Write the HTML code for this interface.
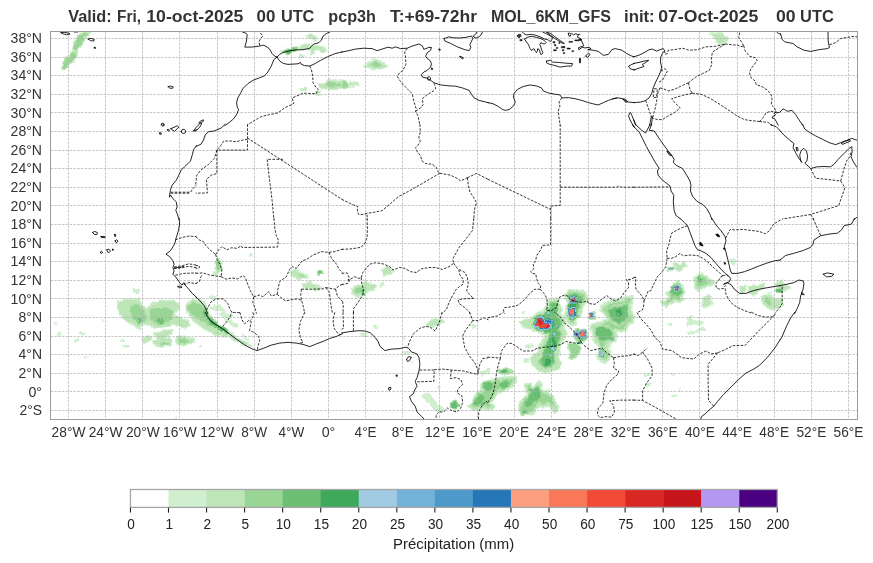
<!DOCTYPE html>
<html><head><meta charset="utf-8"><title>pcp3h</title>
<style>html,body{margin:0;padding:0;background:#fff;}svg{display:block;}text{font-family:"Liberation Sans",sans-serif;}</style>
</head><body>
<svg width="873" height="563" viewBox="0 0 873 563">
<rect x="0" y="0" width="873" height="563" fill="#ffffff"/>
<defs><filter id="rough" x="-5%" y="-5%" width="110%" height="110%" filterUnits="objectBoundingBox"><feTurbulence type="fractalNoise" baseFrequency="0.22" numOctaves="2" seed="7" result="n"/><feDisplacementMap in="SourceGraphic" in2="n" scale="4" xChannelSelector="R" yChannelSelector="G"/></filter></defs>
<defs><clipPath id="mc"><rect x="50.5" y="31.5" width="807.0" height="388.0"/></clipPath></defs>
<g clip-path="url(#mc)">
<g id="precip" stroke-linejoin="round" filter="url(#rough)">
<path d="M79.8,33.2 L89.1,32.8 L88.5,35.3 L84.8,37.0 L82.8,42.7 L80.1,48.1 L74.9,51.7 L72.4,48.7 L74.8,42.7 L77.3,36.9Z" fill="#99d594" stroke="#bde5b7" stroke-width="1.4"/>
<path d="M69.7,52.7 L77.1,51.7 L76.8,56.1 L72.7,61.4 L67.4,67.3 L61.7,69.3 L62.5,63.8 L65.7,57.8 L69.7,55.4Z" fill="#99d594" stroke="#bde5b7" stroke-width="1.4"/>
<path d="M281.0,50.4 L286.3,49.1 L293.0,48.1 L298.4,47.4 L303.0,44.4 L308.1,43.9 L313.1,45.0 L319.8,46.1 L324.8,48.4 L326.8,51.1 L321.4,52.4 L316.7,49.4 L313.4,51.1 L313.4,53.7 L310.7,53.7 L309.7,49.7 L303.0,49.4 L297.3,50.4 L290.7,53.4 L286.3,53.9 L282.3,52.1Z" fill="#bde5b7" stroke="#d0efcf" stroke-width="1.4"/>
<path d="M283.8,51.1 L289.7,49.4 L297.2,48.4 L296.3,50.2 L290.7,52.7 L286.3,53.1Z" fill="#6cbf73" stroke="#99d594" stroke-width="1.4"/>
<path d="M286.0,51.1 L291.3,49.6 L296.0,49.1 L294.3,50.7 L289.7,52.4 L286.6,52.4Z" fill="#3ea85b" stroke="#6cbf73" stroke-width="1.4"/>
<path d="M305.5,34.7 L311.4,34.2 L316.4,36.9 L315.7,40.4 L311.4,39.4 L308.1,37.7Z" fill="#bde5b7" stroke="#d0efcf" stroke-width="1.4"/>
<path d="M299.7,54.4 L303.0,54.7 L303.4,57.1 L300.0,56.4Z" fill="#bde5b7" stroke="#d0efcf" stroke-width="1.4"/>
<path d="M318.9,85.4 L324.8,82.0 L329.8,79.3 L336.5,80.3 L342.3,81.2 L342.3,87.9 L336.5,88.9 L329.8,89.7 L324.8,88.9 L319.8,87.9Z" fill="#bde5b7" stroke="#d0efcf" stroke-width="1.4"/>
<path d="M324.8,84.5 L329.8,81.5 L336.5,82.0 L342.3,83.2 L342.3,86.2 L334.8,87.0 L328.1,87.5Z" fill="#99d594" stroke="#bde5b7" stroke-width="1.4"/>
<path d="M300.5,88.5 L305.5,88.4 L305.7,90.5 L301.0,90.7Z" fill="#bde5b7" stroke="#d0efcf" stroke-width="1.4"/>
<path d="M315.6,91.9 L320.6,91.5 L320.1,95.2 L316.1,95.2Z" fill="#bde5b7" stroke="#d0efcf" stroke-width="1.4"/>
<path d="M364.2,66.5 L368.8,61.9 L372.9,58.9 L378.0,59.6 L382.1,62.8 L387.2,66.1 L383.8,68.3 L377.1,69.8 L370.4,68.1Z" fill="#bde5b7" stroke="#d0efcf" stroke-width="1.4"/>
<path d="M369.6,64.1 L373.8,61.1 L378.0,61.4 L382.1,64.4 L378.0,67.5 L372.1,66.5Z" fill="#99d594" stroke="#bde5b7" stroke-width="1.4"/>
<path d="M341.7,80.2 L346.2,80.8 L348.7,83.2 L347.0,87.0 L344.0,88.9 L341.7,88.9Z" fill="#99d594" stroke="#bde5b7" stroke-width="1.4"/>
<path d="M347.9,83.2 L353.7,81.8 L359.7,83.2 L358.7,85.5 L352.0,86.0 L348.4,86.2Z" fill="#bde5b7" stroke="#d0efcf" stroke-width="1.4"/>
<path d="M710.1,33.5 L715.9,33.0 L721.0,32.5 L725.1,36.0 L728.7,38.5 L727.7,42.0 L722.6,43.7 L718.5,44.2 L715.9,41.9 L717.0,38.5 L712.6,36.9Z" fill="#bde5b7" stroke="#d0efcf" stroke-width="1.4"/>
<path d="M117.4,301.3 L126.1,299.1 L139.2,299.1 L141.4,304.6 L146.8,307.9 L152.2,303.5 L163.1,300.7 L174.0,300.2 L179.4,303.5 L178.4,310.0 L174.0,314.4 L180.5,317.6 L187.1,319.8 L190.3,325.3 L184.9,328.1 L177.3,326.4 L174.0,324.2 L165.3,327.4 L154.4,328.5 L150.1,325.3 L141.4,324.2 L140.3,329.6 L134.8,326.4 L129.4,324.2 L125.0,319.8 L119.6,314.4 L117.4,308.9Z" fill="#bde5b7" stroke="#d0efcf" stroke-width="1.4"/>
<path d="M129.4,304.6 L138.1,303.5 L143.5,308.9 L146.8,315.5 L145.7,322.0 L139.2,324.2 L132.6,320.9 L130.5,313.3Z" fill="#99d594" stroke="#bde5b7" stroke-width="1.4"/>
<path d="M149.0,310.0 L156.6,306.8 L169.6,307.9 L175.1,312.2 L171.8,319.8 L165.3,325.3 L156.6,325.3 L150.1,320.9Z" fill="#99d594" stroke="#bde5b7" stroke-width="1.4"/>
<path d="M135.9,317.6 L141.4,317.2 L142.7,321.6 L138.1,323.3Z" fill="#6cbf73" stroke="#99d594" stroke-width="1.4"/>
<path d="M155.5,317.6 L163.1,317.6 L165.3,322.4 L158.8,324.6Z" fill="#6cbf73" stroke="#99d594" stroke-width="1.4"/>
<path d="M208.8,295.9 L216.4,295.4 L218.6,298.5 L212.1,299.4Z" fill="#d0efcf"/>
<path d="M213.2,304.6 L221.9,306.8 L227.3,312.2 L221.9,312.9 L215.3,308.9Z" fill="#d0efcf"/>
<path d="M224.1,317.6 L232.8,320.9 L239.3,327.4 L233.8,327.4 L227.3,323.1Z" fill="#d0efcf"/>
<path d="M239.3,331.8 L245.8,336.1 L250.2,342.0 L244.7,339.4Z" fill="#d0efcf"/>
<path d="M186.0,305.7 L189.2,301.3 L195.8,299.1 L201.2,299.8 L205.6,305.7 L208.8,312.2 L214.3,319.8 L224.1,327.4 L234.9,335.5 L244.7,342.0 L252.3,346.4 L243.6,344.9 L234.9,341.6 L228.4,336.1 L217.5,336.1 L208.8,331.8 L202.3,327.4 L195.8,323.1 L191.4,317.6 L187.1,313.3Z" fill="#bde5b7" stroke="#d0efcf" stroke-width="1.4"/>
<path d="M187.1,304.6 L195.8,301.3 L203.4,305.7 L208.8,313.3 L213.2,320.9 L221.9,326.4 L230.6,334.0 L226.2,334.2 L217.5,329.8 L208.8,325.5 L200.1,319.8 L191.4,315.5 L187.1,310.0Z" fill="#99d594" stroke="#bde5b7" stroke-width="1.4"/>
<path d="M204.0,310.7 L208.8,317.6 L215.3,323.1 L221.9,327.4 L228.8,332.0 L227.5,333.5 L219.7,329.0 L212.1,324.2 L206.6,318.1 L203.2,312.2Z" fill="#3ea85b" stroke="#6cbf73" stroke-width="1.4"/>
<path d="M141.4,338.3 L146.8,336.1 L152.2,336.8 L151.1,340.5 L144.6,342.7Z" fill="#bde5b7" stroke="#d0efcf" stroke-width="1.4"/>
<path d="M153.3,334.0 L163.1,330.7 L171.8,329.6 L172.9,334.0 L165.3,337.2 L171.8,340.5 L170.7,344.9 L163.1,347.0 L155.5,345.9 L152.2,342.0 L157.7,338.3Z" fill="#bde5b7" stroke="#d0efcf" stroke-width="1.4"/>
<path d="M158.8,341.6 L169.6,341.2 L169.2,344.9 L160.9,345.5Z" fill="#99d594" stroke="#bde5b7" stroke-width="1.4"/>
<path d="M176.2,337.2 L179.4,335.5 L187.1,337.2 L193.6,339.4 L194.7,342.7 L187.1,344.9 L178.4,345.5 L175.7,342.0Z" fill="#bde5b7" stroke="#d0efcf" stroke-width="1.4"/>
<path d="M177.3,337.2 L187.1,339.4 L192.5,342.0 L184.9,343.8 L178.4,343.8Z" fill="#99d594" stroke="#bde5b7" stroke-width="1.4"/>
<path d="M121.8,339.4 L123.9,339.4 L123.9,342.0 L121.8,342.0Z" fill="#d0efcf"/>
<path d="M122.9,344.9 L127.2,344.9 L127.2,347.0 L122.9,347.0Z" fill="#d0efcf"/>
<path d="M131.6,289.4 L140.3,288.9 L139.2,293.3 L132.6,292.6Z" fill="#d0efcf"/>
<path d="M199.0,345.9 L202.3,345.9 L202.3,347.5 L199.0,347.5Z" fill="#d0efcf"/>
<path d="M519.2,321.2 L523.8,319.4 L529.3,319.4 L533.9,315.7 L536.7,313.0 L543.1,310.2 L545.8,305.7 L547.7,300.2 L553.2,298.3 L558.6,299.2 L561.4,304.7 L562.3,310.2 L560.5,313.9 L565.1,316.7 L566.0,322.2 L563.2,326.7 L566.9,330.4 L566.0,335.0 L563.2,340.5 L561.4,345.1 L560.5,351.5 L558.6,357.0 L561.4,362.5 L560.5,368.0 L556.8,370.7 L551.3,369.8 L548.6,372.6 L544.0,373.5 L539.4,370.7 L534.8,367.1 L531.2,362.5 L530.2,357.0 L533.9,354.2 L538.5,350.6 L539.4,344.1 L543.1,338.6 L545.8,334.1 L541.2,333.2 L533.9,330.4 L527.5,328.6 L522.0,326.7Z" fill="#bde5b7" stroke="#d0efcf" stroke-width="1.4"/>
<path d="M535.7,317.6 L544.0,313.0 L548.6,309.3 L550.4,302.9 L556.8,302.0 L558.6,307.5 L555.9,313.9 L560.5,319.4 L562.3,324.9 L558.6,329.5 L561.4,335.0 L558.6,342.3 L555.0,349.6 L554.1,357.0 L555.0,362.5 L551.3,366.1 L545.8,368.0 L541.2,365.2 L539.4,360.6 L543.1,355.1 L544.0,347.8 L546.7,341.4 L549.5,335.0 L544.0,332.2 L536.7,329.5 L533.0,324.9Z" fill="#6cbf73" stroke="#99d594" stroke-width="1.4"/>
<path d="M534.5,317.6 L541.2,314.8 L547.7,315.7 L554.1,319.4 L555.0,325.8 L551.3,330.4 L544.0,331.3 L536.7,329.5 L533.4,324.0Z" fill="#3ea85b" stroke="#6cbf73" stroke-width="1.4"/>
<path d="M549.9,335.0 L555.0,334.1 L556.8,342.3 L555.0,350.6 L551.3,353.3 L548.6,349.6 L549.5,342.3Z" fill="#3ea85b" stroke="#6cbf73" stroke-width="1.4"/>
<path d="M543.1,358.8 L549.5,357.9 L552.2,362.5 L548.6,366.1 L544.0,365.2Z" fill="#3ea85b" stroke="#6cbf73" stroke-width="1.4"/>
<path d="M543.3,321.4 L548.6,319.2 L552.6,321.4 L550.6,324.4 L545.8,324.7Z" fill="#2677b8" stroke="#72b2d8" stroke-width="1.2"/>
<path d="M537.6,319.4 L540.3,317.6 L543.1,319.4 L544.0,323.1 L548.6,324.0 L550.4,326.7 L546.7,328.6 L543.1,328.0 L541.2,329.5 L537.6,327.3 L535.2,324.9 L536.7,322.2Z" fill="#f14b38" stroke="#a0cbe2" stroke-width="3"/>
<path d="M537.6,319.4 L540.3,317.6 L543.1,319.4 L544.0,323.1 L548.6,324.0 L550.4,326.7 L546.7,328.6 L543.1,328.0 L541.2,329.5 L537.6,327.3 L535.2,324.9 L536.7,322.2Z" fill="#f14b38" stroke="#2677b8" stroke-width="1.0"/>
<path d="M538.1,320.7 L540.7,318.9 L542.5,320.7 L542.5,324.0 L540.3,325.8 L537.8,324.0Z" fill="#d92823"/>
<path d="M546.7,324.9 L549.5,325.8 L548.0,328.0 L544.9,327.3Z" fill="#d92823"/>
<path d="M546.7,311.2 L550.4,311.2 L550.4,314.8 L546.7,314.8Z" fill="#a0cbe2" stroke="#3ea85b" stroke-width="0.6"/>
<path d="M552.2,332.2 L555.9,332.2 L555.9,335.9 L552.2,335.9Z" fill="#a0cbe2" stroke="#3ea85b" stroke-width="0.6"/>
<path d="M555.9,324.9 L558.6,324.9 L558.6,327.7 L555.9,327.7Z" fill="#a0cbe2" stroke="#3ea85b" stroke-width="0.6"/>
<path d="M550.4,346.0 L555.0,346.0 L555.0,351.5 L550.4,351.5Z" fill="#a0cbe2" stroke="#3ea85b" stroke-width="0.6"/>
<path d="M548.6,353.3 L551.3,353.3 L551.3,357.0 L548.6,357.0Z" fill="#a0cbe2" stroke="#3ea85b" stroke-width="0.6"/>
<path d="M549.5,342.3 L551.7,342.3 L551.7,344.5 L549.5,344.5Z" fill="#a0cbe2" stroke="#3ea85b" stroke-width="0.6"/>
<path d="M565.1,293.7 L568.7,290.1 L575.1,289.2 L582.5,291.0 L587.1,294.7 L588.9,299.2 L586.1,302.9 L582.5,305.7 L582.5,311.2 L580.6,316.7 L577.0,319.4 L576.1,324.0 L572.4,325.8 L567.8,323.1 L566.0,317.6 L565.1,312.1 L566.0,306.6 L567.8,302.9 L565.1,298.3Z" fill="#bde5b7" stroke="#d0efcf" stroke-width="1.4"/>
<path d="M567.3,294.7 L567.3,297.7 L569.7,301.8 L569.8,302.0 L569.9,302.2 L569.9,302.4 L570.0,302.6 L570.0,302.8 L570.0,303.0 L570.0,303.3 L569.9,303.5 L569.9,303.7 L569.8,303.9 L568.1,307.3 L567.3,312.1 L568.1,317.0 L569.6,321.6 L572.5,323.3 L574.1,322.5 L574.8,319.0 L574.9,318.8 L575.0,318.5 L575.1,318.3 L575.2,318.1 L575.3,318.0 L575.5,317.8 L575.7,317.6 L578.8,315.3 L580.3,310.8 L580.3,305.7 L580.3,305.4 L580.3,305.2 L580.4,305.0 L580.5,304.8 L580.6,304.6 L580.7,304.4 L580.8,304.2 L581.0,304.0 L581.2,303.9 L584.6,301.3 L586.4,298.9 L585.2,296.0 L581.5,293.0 L575.0,291.4 L569.8,292.2Z" fill="#99d594" stroke="#bde5b7" stroke-width="1.4"/>
<path d="M568.7,294.7 L575.1,292.8 L581.6,295.6 L584.3,299.2 L580.6,302.9 L578.8,309.3 L577.9,315.7 L574.2,321.2 L570.6,319.4 L568.7,313.0 L568.7,306.6 L570.6,302.0Z" fill="#6cbf73" stroke="#99d594" stroke-width="1.4"/>
<path d="M569.6,295.6 L577.0,294.7 L577.9,300.2 L576.1,307.5 L577.0,314.8 L573.3,319.4 L569.6,316.7 L568.2,307.5 L569.6,302.0Z" fill="#3ea85b" stroke="#6cbf73" stroke-width="1.4"/>
<path d="M570.6,298.3 L575.1,298.3 L575.1,302.0 L570.6,302.0Z" fill="#f14b38" stroke="#a0cbe2" stroke-width="3"/>
<path d="M570.6,298.3 L575.1,298.3 L575.1,302.0 L570.6,302.0Z" fill="#f14b38" stroke="#2677b8" stroke-width="1.0"/>
<path d="M568.7,308.4 L574.2,308.4 L574.8,314.8 L569.3,315.2Z" fill="#fa7759" stroke="#a0cbe2" stroke-width="3"/>
<path d="M568.7,308.4 L574.2,308.4 L574.8,314.8 L569.3,315.2Z" fill="#fa7759" stroke="#2677b8" stroke-width="1.0"/>
<path d="M569.6,316.7 L574.2,316.7 L574.2,319.6 L569.6,319.6Z" fill="#a0cbe2" stroke="#3ea85b" stroke-width="0.6"/>
<path d="M588.0,312.1 L595.3,312.1 L595.3,319.4 L588.0,319.4Z" fill="#99d594" stroke="#bde5b7" stroke-width="1.4"/>
<path d="M589.4,313.7 L592.7,313.7 L592.7,317.0 L589.4,317.0Z" fill="#fa7759" stroke="#a0cbe2" stroke-width="3"/>
<path d="M589.4,313.7 L592.7,313.7 L592.7,317.0 L589.4,317.0Z" fill="#fa7759" stroke="#2677b8" stroke-width="1.0"/>
<path d="M573.3,332.2 L577.0,329.5 L584.3,329.1 L587.1,332.2 L587.6,336.8 L585.2,340.5 L581.6,343.2 L577.0,341.4 L573.7,337.7Z" fill="#99d594" stroke="#bde5b7" stroke-width="1.4"/>
<path d="M577.9,330.4 L586.1,329.9 L586.5,337.7 L581.6,339.6 L577.0,337.7Z" fill="#3ea85b" stroke="#6cbf73" stroke-width="1.4"/>
<path d="M579.7,331.3 L585.2,331.3 L585.2,336.8 L579.7,336.8Z" fill="#fa7759" stroke="#a0cbe2" stroke-width="3"/>
<path d="M579.7,331.3 L585.2,331.3 L585.2,336.8 L579.7,336.8Z" fill="#fa7759" stroke="#2677b8" stroke-width="1.0"/>
<path d="M574.8,333.2 L577.0,333.2 L577.0,335.9 L574.8,335.9Z" fill="#f14b38" stroke="#a0cbe2" stroke-width="3"/>
<path d="M574.8,333.2 L577.0,333.2 L577.0,335.9 L574.8,335.9Z" fill="#f14b38" stroke="#2677b8" stroke-width="1.0"/>
<path d="M578.4,341.4 L580.6,341.4 L580.6,343.8 L578.4,343.8Z" fill="#4d99ca" stroke="#3ea85b" stroke-width="0.6"/>
<path d="M599.9,307.5 L604.5,303.8 L611.8,299.2 L619.1,300.2 L626.5,296.5 L632.9,295.6 L633.8,300.2 L631.0,305.7 L632.0,312.1 L634.7,316.7 L632.9,323.1 L628.3,325.8 L626.5,330.4 L621.0,332.2 L616.4,330.4 L617.3,336.8 L615.5,342.3 L610.0,343.2 L608.1,348.7 L611.8,353.3 L610.0,359.7 L604.5,363.4 L599.9,360.6 L596.2,356.1 L599.0,350.6 L597.1,345.1 L593.5,340.5 L592.6,334.1 L589.8,328.6 L591.6,324.0 L597.1,323.1 L602.6,321.2 L607.2,319.4 L605.4,314.8 L601.7,312.1Z" fill="#bde5b7" stroke="#d0efcf" stroke-width="1.4"/>
<path d="M602.5,308.2 L603.5,310.7 L606.7,313.1 L606.9,313.2 L607.0,313.3 L607.1,313.5 L607.2,313.6 L607.3,313.8 L607.4,314.0 L609.3,318.6 L609.3,318.8 L609.4,319.0 L609.4,319.2 L609.4,319.4 L609.4,319.6 L609.4,319.9 L609.3,320.1 L609.2,320.3 L609.1,320.5 L609.0,320.6 L608.9,320.8 L608.8,321.0 L608.6,321.1 L608.4,321.2 L608.2,321.4 L608.0,321.4 L603.5,323.3 L603.3,323.3 L597.8,325.2 L597.7,325.2 L597.5,325.2 L593.2,326.0 L592.2,328.5 L594.5,333.1 L594.6,333.3 L594.7,333.5 L594.7,333.8 L595.6,339.6 L598.9,343.7 L599.0,343.8 L599.1,344.0 L599.2,344.2 L599.2,344.4 L601.1,349.9 L601.1,350.1 L601.2,350.3 L601.2,350.5 L601.2,350.7 L601.1,350.9 L601.1,351.1 L601.0,351.3 L600.9,351.5 L598.8,355.8 L601.4,359.0 L604.4,360.8 L608.1,358.3 L609.4,353.8 L606.4,350.1 L606.3,349.9 L606.2,349.7 L606.1,349.5 L606.0,349.3 L606.0,349.1 L605.9,348.9 L605.9,348.7 L605.9,348.5 L606.0,348.2 L606.0,348.0 L607.9,342.5 L608.0,342.3 L608.1,342.1 L608.2,342.0 L608.3,341.8 L608.5,341.6 L608.6,341.5 L608.8,341.4 L609.0,341.3 L609.2,341.2 L609.4,341.1 L609.6,341.1 L613.8,340.4 L615.0,336.6 L614.2,330.7 L614.2,330.5 L614.2,330.3 L614.2,330.1 L614.3,329.8 L614.3,329.6 L614.4,329.4 L614.5,329.2 L614.6,329.1 L614.8,328.9 L614.9,328.7 L615.1,328.6 L615.3,328.5 L615.5,328.4 L615.7,328.3 L615.9,328.3 L616.1,328.2 L616.3,328.2 L616.6,328.2 L616.8,328.2 L617.0,328.3 L617.2,328.4 L621.0,329.9 L624.8,328.6 L626.3,325.0 L626.3,324.8 L626.4,324.6 L626.6,324.5 L626.7,324.3 L626.8,324.2 L627.0,324.0 L627.2,323.9 L631.0,321.6 L632.3,317.0 L630.1,313.2 L630.0,313.0 L629.9,312.8 L629.8,312.6 L629.8,312.4 L628.9,306.0 L628.8,305.7 L628.8,305.5 L628.9,305.3 L628.9,305.1 L629.0,304.9 L629.1,304.7 L631.5,299.9 L631.1,298.1 L627.1,298.6 L620.1,302.1 L619.9,302.2 L619.7,302.3 L619.5,302.3 L619.3,302.4 L619.1,302.4 L618.9,302.3 L612.3,301.5 L605.7,305.6Z" fill="#99d594" stroke="#bde5b7" stroke-width="1.4"/>
<path d="M606.3,309.3 L613.6,305.7 L621.0,304.7 L627.4,302.9 L628.3,309.3 L629.2,316.7 L625.5,322.2 L619.1,325.8 L613.6,324.0 L610.0,319.4 L608.1,313.9Z" fill="#99d594" stroke="#bde5b7" stroke-width="1.4"/>
<path d="M594.4,327.7 L600.8,324.9 L608.1,326.7 L612.7,330.4 L613.6,336.8 L610.0,340.5 L605.4,342.3 L603.6,347.8 L606.3,353.3 L603.6,358.8 L599.9,357.0 L600.8,349.6 L599.0,342.3 L595.3,336.8Z" fill="#99d594" stroke="#bde5b7" stroke-width="1.4"/>
<path d="M607.2,310.2 L614.5,306.6 L621.9,305.7 L627.4,303.8 L628.3,310.2 L628.3,316.7 L624.6,321.2 L619.1,324.0 L614.5,322.2 L610.9,317.6Z" fill="#6cbf73" stroke="#99d594" stroke-width="1.4"/>
<path d="M595.3,328.6 L601.7,325.8 L608.1,327.7 L611.8,331.3 L612.2,336.8 L609.0,339.6 L604.5,341.4 L599.9,340.5 L596.2,335.9Z" fill="#6cbf73" stroke="#99d594" stroke-width="1.4"/>
<path d="M600.8,348.7 L605.4,352.4 L603.6,357.9 L600.4,356.1Z" fill="#6cbf73" stroke="#99d594" stroke-width="1.4"/>
<path d="M614.5,310.2 L620.0,309.0 L623.2,312.1 L621.0,316.7 L616.4,317.6Z" fill="#3ea85b" stroke="#6cbf73" stroke-width="1.4"/>
<path d="M599.9,350.6 L603.6,350.6 L603.6,357.0 L599.9,357.0Z" fill="#a0cbe2" stroke="#3ea85b" stroke-width="0.6"/>
<path d="M610.9,337.7 L613.3,337.7 L613.3,340.5 L610.9,340.5Z" fill="#a0cbe2" stroke="#3ea85b" stroke-width="0.6"/>
<path d="M617.3,313.0 L619.1,313.0 L619.1,315.7 L617.3,315.7Z" fill="#a0cbe2" stroke="#3ea85b" stroke-width="0.6"/>
<path d="M567.8,344.1 L571.5,342.3 L577.0,343.2 L580.6,346.9 L579.7,352.4 L577.0,357.0 L572.4,359.7 L568.7,357.9 L570.6,353.3 L568.7,348.7Z" fill="#99d594" stroke="#bde5b7" stroke-width="1.4"/>
<path d="M500.0,369.8 L504.6,368.3 L511.0,369.8 L512.8,372.6 L507.3,373.8 L500.0,373.5Z" fill="#6cbf73" stroke="#99d594" stroke-width="1.4"/>
<path d="M523.8,358.4 L528.4,358.4 L528.4,362.1 L523.8,362.1Z" fill="#d0efcf"/>
<path d="M524.7,345.1 L532.1,343.2 L533.9,346.9 L529.3,349.6 L525.7,348.7Z" fill="#d0efcf"/>
<path d="M522.0,312.1 L524.7,312.1 L524.7,314.5 L522.0,314.5Z" fill="#d0efcf"/>
<path d="M516.5,297.4 L519.2,297.4 L519.2,299.2 L516.5,299.2Z" fill="#d0efcf"/>
<path d="M643.9,373.5 L649.4,373.5 L649.4,376.2 L643.9,376.2Z" fill="#d0efcf"/>
<path d="M421.6,395.7 L425.8,392.6 L429.9,393.2 L433.0,397.7 L436.1,401.9 L441.2,406.0 L444.3,410.1 L440.2,412.2 L435.1,411.1 L430.9,406.0 L426.8,401.9 L423.1,398.8Z" fill="#d0efcf"/>
<path d="M450.5,402.9 L453.6,400.8 L457.7,401.9 L458.8,406.0 L455.7,409.1 L451.5,408.0Z" fill="#6cbf73" stroke="#99d594" stroke-width="1.4"/>
<path d="M452.6,404.9 L454.6,404.9 L454.6,407.0 L452.6,407.0Z" fill="#a0cbe2" stroke="#3ea85b" stroke-width="0.6"/>
<path d="M478.4,370.9 L484.5,368.9 L490.7,368.9 L489.7,373.0 L485.6,375.1 L481.4,377.1Z" fill="#d0efcf"/>
<path d="M496.9,369.9 L503.1,368.5 L511.3,370.9 L512.4,373.0 L505.2,374.0 L499.0,373.0Z" fill="#99d594" stroke="#bde5b7" stroke-width="1.4"/>
<path d="M502.1,369.9 L506.2,369.9 L506.2,372.2 L502.1,372.2Z" fill="#3ea85b" stroke="#6cbf73" stroke-width="1.4"/>
<path d="M480.4,384.3 L484.5,381.2 L490.7,379.2 L496.9,378.1 L503.1,377.1 L511.3,376.1 L517.5,377.1 L515.5,382.3 L512.4,387.4 L507.2,390.5 L501.0,391.5 L496.9,394.6 L493.8,399.8 L490.7,402.9 L494.8,407.0 L490.7,410.1 L482.5,409.1 L476.3,409.7 L470.1,409.1 L468.0,405.6 L472.2,400.8 L475.3,395.7 L478.4,391.5 L481.4,389.5Z" fill="#bde5b7" stroke="#d0efcf" stroke-width="1.4"/>
<path d="M482.8,385.3 L483.6,389.1 L483.6,389.3 L483.6,389.5 L483.6,389.7 L483.6,389.9 L483.5,390.1 L483.5,390.3 L483.4,390.5 L483.3,390.7 L483.1,390.9 L483.0,391.0 L482.8,391.2 L482.7,391.3 L479.9,393.2 L477.1,396.9 L474.1,402.0 L473.9,402.1 L473.8,402.3 L470.7,405.8 L471.4,407.0 L476.3,407.5 L482.3,406.9 L482.5,406.9 L482.7,406.9 L490.1,407.8 L491.5,406.8 L489.2,404.4 L489.0,404.3 L488.9,404.1 L488.8,403.9 L488.7,403.7 L488.6,403.5 L488.6,403.3 L488.5,403.1 L488.5,402.9 L488.5,402.7 L488.6,402.5 L488.6,402.2 L488.7,402.0 L488.8,401.8 L488.9,401.7 L489.0,401.5 L489.2,401.3 L492.1,398.4 L495.0,393.5 L495.1,393.3 L495.3,393.2 L495.4,393.0 L495.6,392.9 L499.7,389.8 L499.9,389.7 L500.1,389.6 L500.3,389.5 L500.5,389.4 L500.7,389.4 L506.4,388.4 L510.8,385.8 L513.5,381.3 L514.5,378.8 L511.3,378.3 L503.4,379.3 L491.3,381.3 L485.6,383.2Z" fill="#99d594" stroke="#bde5b7" stroke-width="1.4"/>
<path d="M482.5,384.3 L488.7,381.2 L493.8,383.3 L492.8,389.5 L488.7,391.5 L484.5,390.5Z" fill="#6cbf73" stroke="#99d594" stroke-width="1.4"/>
<path d="M499.0,383.3 L505.2,380.2 L509.3,382.3 L508.2,387.4 L502.1,389.5 L499.0,387.4Z" fill="#6cbf73" stroke="#99d594" stroke-width="1.4"/>
<path d="M474.2,399.8 L479.4,393.6 L484.5,394.6 L485.6,399.8 L482.5,404.9 L476.3,406.0 L472.2,403.9Z" fill="#6cbf73" stroke="#99d594" stroke-width="1.4"/>
<path d="M523.7,384.3 L528.9,383.3 L534.0,386.4 L538.1,381.2 L542.3,382.3 L541.2,388.5 L544.3,391.5 L548.5,389.5 L549.5,392.6 L553.6,397.7 L556.7,401.9 L558.4,410.1 L554.6,414.2 L551.5,408.0 L547.4,404.9 L544.3,408.0 L540.2,406.0 L536.1,409.1 L534.0,414.2 L525.8,415.3 L520.6,414.2 L518.6,409.1 L519.6,401.9 L523.7,397.7 L527.8,394.6 L525.8,389.5Z" fill="#bde5b7" stroke="#d0efcf" stroke-width="1.4"/>
<path d="M526.7,386.0 L529.9,393.8 L529.9,394.0 L530.0,394.2 L530.0,394.5 L530.0,394.7 L530.0,394.9 L530.0,395.1 L529.9,395.3 L529.8,395.5 L529.7,395.7 L529.6,395.9 L529.5,396.1 L529.3,396.3 L529.2,396.4 L525.2,399.4 L521.7,402.9 L520.8,408.8 L522.2,412.3 L525.9,413.0 L532.5,412.2 L534.0,408.3 L534.1,408.1 L534.2,407.9 L534.3,407.7 L534.5,407.6 L534.6,407.4 L534.8,407.3 L538.9,404.2 L539.1,404.1 L539.3,404.0 L539.5,403.9 L539.7,403.8 L539.9,403.8 L540.1,403.8 L540.3,403.8 L540.6,403.8 L540.8,403.9 L541.0,403.9 L541.2,404.0 L543.9,405.4 L545.9,403.4 L546.0,403.3 L546.2,403.1 L546.4,403.0 L546.6,402.9 L546.8,402.9 L547.0,402.8 L547.2,402.8 L547.4,402.7 L547.6,402.8 L547.8,402.8 L548.0,402.8 L548.2,402.9 L548.4,403.0 L548.6,403.1 L548.7,403.2 L552.9,406.3 L553.0,406.4 L553.2,406.6 L553.3,406.7 L553.4,406.9 L553.5,407.1 L555.2,410.4 L556.0,409.5 L554.6,402.8 L551.9,399.1 L547.8,394.0 L547.7,393.8 L547.6,393.6 L547.5,393.5 L547.4,393.3 L547.2,392.6 L545.3,393.5 L545.1,393.6 L544.9,393.7 L544.7,393.7 L544.5,393.7 L544.3,393.7 L544.1,393.7 L543.9,393.7 L543.7,393.6 L543.5,393.6 L543.3,393.5 L543.1,393.4 L542.9,393.2 L542.8,393.1 L539.7,390.0 L539.5,389.9 L539.4,389.7 L539.3,389.5 L539.2,389.3 L539.1,389.1 L539.1,388.9 L539.1,388.7 L539.0,388.5 L539.0,388.3 L539.1,388.1 L539.8,383.9 L539.0,383.7 L535.7,387.8 L535.6,387.9 L535.4,388.1 L535.3,388.2 L535.1,388.3 L534.9,388.4 L534.7,388.5 L534.5,388.5 L534.3,388.6 L534.1,388.6 L533.9,388.6 L533.7,388.6 L533.5,388.5 L533.3,388.5 L533.1,388.4 L532.9,388.3 L528.5,385.6Z" fill="#99d594" stroke="#bde5b7" stroke-width="1.4"/>
<path d="M526.8,386.4 L533.0,388.5 L537.1,386.4 L540.2,390.5 L541.2,396.7 L538.1,400.8 L534.0,401.9 L532.0,406.0 L526.8,408.0 L523.7,406.0 L524.7,400.8 L528.9,397.7 L529.9,392.6Z" fill="#6cbf73" stroke="#99d594" stroke-width="1.4"/>
<path d="M520.6,410.1 L527.8,410.1 L526.8,413.8 L521.6,413.8Z" fill="#6cbf73" stroke="#99d594" stroke-width="1.4"/>
<path d="M535.5,391.5 L537.1,391.5 L537.1,395.3 L535.5,395.3Z" fill="#a0cbe2" stroke="#3ea85b" stroke-width="0.6"/>
<path d="M523.7,358.6 L528.9,358.6 L528.9,362.7 L523.7,362.7Z" fill="#d0efcf"/>
<path d="M402.1,351.3 L406.2,351.3 L406.2,354.4 L402.1,354.4Z" fill="#d0efcf"/>
<path d="M672.0,264.4 L676.1,262.4 L680.2,264.4 L684.3,262.4 L686.4,265.5 L682.3,269.6 L679.2,271.6 L676.1,269.6Z" fill="#bde5b7" stroke="#d0efcf" stroke-width="1.4"/>
<path d="M667.4,268.1 L673.0,267.7 L673.4,270.6 L667.8,270.8Z" fill="#6cbf73" stroke="#99d594" stroke-width="1.4"/>
<path d="M670.1,269.0 L672.2,269.0 L672.2,270.2 L670.1,270.2Z" fill="#fa7759" stroke="#72b2d8" stroke-width="0.8"/>
<path d="M666.8,293.3 L670.9,288.1 L674.0,283.0 L677.1,279.9 L679.2,284.0 L683.3,286.1 L684.3,291.2 L682.3,296.4 L684.3,300.5 L680.2,302.6 L675.1,301.5 L670.9,304.6 L665.8,306.7 L661.6,304.6 L660.6,301.5 L664.7,300.5 L667.8,297.4Z" fill="#bde5b7" stroke="#d0efcf" stroke-width="1.4"/>
<path d="M663.5,303.1 L665.9,304.3 L669.8,302.7 L673.7,299.8 L673.9,299.7 L674.1,299.6 L674.3,299.5 L674.5,299.4 L674.7,299.4 L674.9,299.4 L675.1,299.3 L675.3,299.4 L675.5,299.4 L679.9,300.3 L681.4,299.5 L680.3,297.4 L680.2,297.2 L680.2,297.0 L680.1,296.8 L680.1,296.6 L680.1,296.4 L680.1,296.2 L680.1,296.0 L680.2,295.8 L680.2,295.6 L682.0,291.0 L681.4,287.6 L678.2,286.0 L678.0,285.9 L677.8,285.8 L677.7,285.6 L677.5,285.5 L677.4,285.3 L677.3,285.2 L677.2,285.0 L676.5,283.6 L675.8,284.4 L672.8,289.3 L672.6,289.5 L669.2,293.8 L670.0,296.9 L670.0,297.1 L670.0,297.3 L670.0,297.6 L670.0,297.8 L670.0,298.0 L669.9,298.2 L669.8,298.4 L669.7,298.6 L669.5,298.8 L669.4,299.0 L666.3,302.1 L666.2,302.2 L666.0,302.3 L665.8,302.4 L665.6,302.5 L665.5,302.6 L665.3,302.6Z" fill="#99d594" stroke="#bde5b7" stroke-width="1.4"/>
<path d="M670.9,287.1 L676.1,284.0 L681.2,287.1 L682.3,292.3 L679.2,296.4 L673.0,296.4 L669.9,292.3Z" fill="#6cbf73" stroke="#99d594" stroke-width="1.4"/>
<path d="M675.5,286.7 L678.8,286.7 L678.8,290.2 L675.5,290.2Z" fill="#fa7759" stroke="#a0cbe2" stroke-width="3"/>
<path d="M675.5,286.7 L678.8,286.7 L678.8,290.2 L675.5,290.2Z" fill="#fa7759" stroke="#2677b8" stroke-width="1.0"/>
<path d="M692.6,277.8 L697.7,275.8 L700.8,273.7 L706.0,274.7 L709.1,278.9 L714.2,280.9 L715.3,284.0 L710.1,285.1 L706.0,288.1 L700.8,288.1 L697.7,291.2 L694.6,288.1 L694.6,283.0Z" fill="#bde5b7" stroke="#d0efcf" stroke-width="1.4"/>
<path d="M695.4,279.1 L696.7,282.2 L696.8,282.4 L696.8,282.6 L696.8,282.8 L696.8,283.0 L696.8,287.2 L697.7,288.1 L699.3,286.6 L699.4,286.4 L699.6,286.3 L699.8,286.2 L700.0,286.1 L700.2,286.0 L700.4,286.0 L700.6,286.0 L700.8,285.9 L705.2,285.9 L708.8,283.3 L708.9,283.2 L709.1,283.1 L709.3,283.0 L709.5,282.9 L709.7,282.9 L712.0,282.4 L708.3,280.9 L708.1,280.8 L707.9,280.7 L707.7,280.6 L707.6,280.5 L707.4,280.3 L707.3,280.2 L704.7,276.7 L701.3,276.0 L699.0,277.6 L698.8,277.7 L698.5,277.8Z" fill="#99d594" stroke="#bde5b7" stroke-width="1.4"/>
<path d="M696.7,277.8 L700.8,275.8 L703.9,279.9 L700.8,283.0 L697.3,282.0Z" fill="#6cbf73" stroke="#99d594" stroke-width="1.4"/>
<path d="M698.8,279.9 L700.8,279.9 L700.8,281.3 L698.8,281.3Z" fill="#a0cbe2" stroke="#3ea85b" stroke-width="0.6"/>
<path d="M702.9,298.5 L707.0,294.3 L710.1,295.4 L711.1,300.5 L714.2,302.6 L710.1,305.7 L704.9,307.7 L701.9,305.7Z" fill="#bde5b7" stroke="#d0efcf" stroke-width="1.4"/>
<path d="M688.5,316.0 L691.5,315.6 L692.6,320.1 L691.5,323.2 L687.4,323.8 L687.0,320.1Z" fill="#d0efcf"/>
<path d="M694.6,321.1 L702.9,321.1 L703.9,324.2 L697.7,325.3Z" fill="#d0efcf"/>
<path d="M699.8,327.3 L704.9,327.9 L704.9,330.8 L699.8,330.8Z" fill="#d0efcf"/>
<path d="M667.8,322.2 L670.9,322.2 L670.9,325.3 L667.8,325.3Z" fill="#d0efcf"/>
<path d="M728.7,259.3 L733.8,258.2 L736.9,261.3 L734.8,264.4 L730.7,263.4Z" fill="#d0efcf"/>
<path d="M740.0,286.1 L745.2,285.5 L746.2,290.2 L743.1,293.3 L740.0,291.2Z" fill="#bde5b7" stroke="#d0efcf" stroke-width="1.4"/>
<path d="M748.2,288.1 L752.4,285.5 L759.6,285.1 L763.7,283.0 L764.7,287.1 L759.6,290.2 L756.5,294.3 L752.4,295.8 L749.3,292.3Z" fill="#bde5b7" stroke="#d0efcf" stroke-width="1.4"/>
<path d="M777.1,282.0 L782.3,280.9 L784.3,285.1 L788.5,286.1 L790.5,289.2 L784.3,290.2 L779.2,292.3 L775.1,291.2 L776.1,287.1Z" fill="#bde5b7" stroke="#d0efcf" stroke-width="1.4"/>
<path d="M776.1,289.6 L781.2,289.2 L781.4,291.6 L776.5,291.9Z" fill="#3ea85b" stroke="#6cbf73" stroke-width="1.4"/>
<path d="M761.6,296.4 L765.8,294.3 L772.0,295.4 L776.1,298.5 L782.3,299.5 L782.7,304.6 L777.1,308.8 L772.0,309.8 L766.8,307.7 L762.7,303.6Z" fill="#bde5b7" stroke="#d0efcf" stroke-width="1.4"/>
<path d="M763.7,297.4 L769.9,298.5 L772.0,302.6 L768.9,305.7 L764.7,302.6Z" fill="#99d594" stroke="#bde5b7" stroke-width="1.4"/>
<path d="M767.8,291.2 L772.0,291.2 L772.0,293.7 L767.8,293.7Z" fill="#d0efcf"/>
<path d="M215.6,260.2 L218.9,258.9 L222.2,263.9 L221.4,269.0 L217.6,271.5 L215.1,267.7Z" fill="#99d594" stroke="#bde5b7" stroke-width="1.4"/>
<path d="M213.9,271.5 L217.6,271.5 L217.6,274.0 L213.9,274.0Z" fill="#bde5b7" stroke="#d0efcf" stroke-width="1.4"/>
<path d="M247.9,253.9 L252.9,253.9 L252.9,256.4 L247.9,256.4Z" fill="#d0efcf"/>
<path d="M289.5,271.5 L294.5,269.7 L299.5,272.8 L305.8,274.0 L308.4,277.8 L302.1,279.1 L297.0,277.8 L292.0,276.5Z" fill="#bde5b7" stroke="#d0efcf" stroke-width="1.4"/>
<path d="M297.0,274.0 L300.8,273.3 L305.3,275.3 L304.6,277.8 L299.5,277.8Z" fill="#99d594" stroke="#bde5b7" stroke-width="1.4"/>
<path d="M302.1,284.1 L308.4,281.6 L314.7,284.1 L319.7,286.6 L323.5,287.9 L318.4,290.4 L310.9,289.1 L304.6,289.1Z" fill="#bde5b7" stroke="#d0efcf" stroke-width="1.4"/>
<path d="M317.9,270.7 L322.2,270.7 L322.2,274.0 L317.9,274.0Z" fill="#6cbf73" stroke="#99d594" stroke-width="1.4"/>
<path d="M381.9,269.0 L386.5,266.5 L391.5,267.7 L394.0,271.5 L389.0,274.8 L384.0,275.3Z" fill="#bde5b7" stroke="#d0efcf" stroke-width="1.4"/>
<path d="M351.2,289.1 L355.0,285.4 L361.3,284.1 L365.1,281.6 L371.4,284.1 L376.4,285.4 L375.1,289.1 L368.8,291.7 L363.8,294.2 L357.5,296.7 L352.5,294.2Z" fill="#bde5b7" stroke="#d0efcf" stroke-width="1.4"/>
<path d="M353.7,289.1 L361.3,285.9 L365.1,289.1 L361.3,293.4 L355.7,294.2Z" fill="#99d594" stroke="#bde5b7" stroke-width="1.4"/>
<path d="M362.5,289.1 L364.3,289.1 L364.3,294.2 L362.5,294.2Z" fill="#3ea85b" stroke="#6cbf73" stroke-width="1.4"/>
<path d="M378.9,282.8 L384.0,281.6 L385.2,285.4 L380.2,287.9Z" fill="#d0efcf"/>
<path d="M360.0,333.2 L366.3,332.0 L367.6,335.8 L361.3,337.0Z" fill="#d0efcf"/>
<path d="M373.9,325.7 L377.7,325.7 L377.7,328.7 L373.9,328.7Z" fill="#d0efcf"/>
<path d="M208.8,295.9 L216.4,294.9 L217.6,298.5 L210.1,300.0Z" fill="#d0efcf"/>
<path d="M210.1,306.0 L220.2,305.0 L223.9,308.5 L215.1,310.6 L210.1,309.3Z" fill="#d0efcf"/>
<path d="M218.9,312.6 L230.2,313.6 L234.0,317.6 L225.2,318.6 L220.2,316.1Z" fill="#d0efcf"/>
<path d="M688.2,315.9 L691.0,314.9 L692.0,319.7 L696.7,320.6 L703.4,321.0 L702.4,323.5 L697.7,323.5 L691.0,324.4 L686.3,326.3 L687.2,320.6Z" fill="#d0efcf"/>
<path d="M687.2,332.0 L694.8,331.1 L699.6,329.7 L698.6,332.4 L692.9,334.3 L688.2,334.9Z" fill="#d0efcf"/>
<path d="M700.5,327.3 L704.3,327.8 L704.7,330.5 L700.9,330.5Z" fill="#d0efcf"/>
<path d="M668.2,322.5 L671.1,322.1 L670.1,325.4 L668.2,324.8Z" fill="#d0efcf"/>
<path d="M643.5,373.8 L648.3,372.9 L649.2,375.4 L644.5,376.7Z" fill="#d0efcf"/>
<path d="M645.4,383.3 L651.1,382.4 L650.2,386.2 L646.4,386.8Z" fill="#d0efcf"/>
<path d="M671.1,395.1 L677.7,394.4 L677.3,396.6 L672.0,397.4Z" fill="#d0efcf"/>
<path d="M678.7,388.7 L680.6,388.1 L680.6,391.3 L678.9,391.3Z" fill="#d0efcf"/>
<path d="M672.0,373.8 L674.9,373.8 L674.9,375.7 L672.0,375.7Z" fill="#d0efcf"/>
<path d="M426.6,323.5 L431.3,319.7 L436.1,318.7 L440.9,319.7 L444.7,321.6 L440.9,323.5 L437.1,324.8 L433.2,327.3 L429.8,326.7Z" fill="#bde5b7" stroke="#d0efcf" stroke-width="1.4"/>
<path d="M401.9,336.8 L404.7,336.2 L405.1,339.6 L402.5,340.0Z" fill="#d0efcf"/>
<path d="M400.9,352.0 L406.6,351.0 L410.8,352.9 L408.5,354.4 L402.5,354.4Z" fill="#d0efcf"/>
<path d="M409.5,360.5 L412.7,361.5 L412.3,363.9 L409.7,362.8Z" fill="#d0efcf"/>
<path d="M471.3,324.4 L475.1,324.0 L477.9,326.3 L475.1,328.2 L471.7,327.3Z" fill="#d0efcf"/>
<path d="M437.1,386.2 L439.9,385.2 L440.9,388.1 L438.0,388.7Z" fill="#d0efcf"/>
<path d="M54.2,322.3 L57.4,322.3 L57.4,324.6 L54.2,324.6Z" fill="#d0efcf"/>
<path d="M56.9,332.7 L61.1,332.7 L61.1,335.7 L56.9,335.7Z" fill="#d0efcf"/>
<path d="M80.0,331.6 L84.6,331.6 L84.6,334.3 L80.0,334.3Z" fill="#d0efcf"/>
<path d="M74.9,338.5 L78.2,338.5 L78.2,342.7 L74.9,342.7Z" fill="#d0efcf"/>
<path d="M83.5,355.8 L86.5,355.8 L86.5,358.6 L83.5,358.6Z" fill="#d0efcf"/>
<path d="M120.4,339.0 L123.4,339.0 L123.4,342.0 L120.4,342.0Z" fill="#d0efcf"/>
<path d="M122.7,345.0 L129.7,345.0 L129.7,347.3 L122.7,347.3Z" fill="#d0efcf"/>
<path d="M102.0,319.6 L103.6,319.6 L103.6,321.4 L102.0,321.4Z" fill="#d0efcf"/>
<path d="M174.7,416.6 L177.0,416.6 L177.0,418.4 L174.7,418.4Z" fill="#d0efcf"/>
</g>
<g id="grid" stroke="#b0b0b0" stroke-width="0.7" stroke-dasharray="2.6 1.2" fill="none">
<line x1="68.50" y1="31.5" x2="68.50" y2="419.5"/>
<line x1="105.50" y1="31.5" x2="105.50" y2="419.5"/>
<line x1="142.50" y1="31.5" x2="142.50" y2="419.5"/>
<line x1="179.50" y1="31.5" x2="179.50" y2="419.5"/>
<line x1="217.50" y1="31.5" x2="217.50" y2="419.5"/>
<line x1="254.50" y1="31.5" x2="254.50" y2="419.5"/>
<line x1="291.50" y1="31.5" x2="291.50" y2="419.5"/>
<line x1="328.50" y1="31.5" x2="328.50" y2="419.5"/>
<line x1="365.50" y1="31.5" x2="365.50" y2="419.5"/>
<line x1="402.50" y1="31.5" x2="402.50" y2="419.5"/>
<line x1="439.50" y1="31.5" x2="439.50" y2="419.5"/>
<line x1="477.50" y1="31.5" x2="477.50" y2="419.5"/>
<line x1="514.50" y1="31.5" x2="514.50" y2="419.5"/>
<line x1="551.50" y1="31.5" x2="551.50" y2="419.5"/>
<line x1="588.50" y1="31.5" x2="588.50" y2="419.5"/>
<line x1="625.50" y1="31.5" x2="625.50" y2="419.5"/>
<line x1="662.50" y1="31.5" x2="662.50" y2="419.5"/>
<line x1="699.50" y1="31.5" x2="699.50" y2="419.5"/>
<line x1="737.50" y1="31.5" x2="737.50" y2="419.5"/>
<line x1="774.50" y1="31.5" x2="774.50" y2="419.5"/>
<line x1="811.50" y1="31.5" x2="811.50" y2="419.5"/>
<line x1="848.50" y1="31.5" x2="848.50" y2="419.5"/>
<line x1="50.5" y1="410.50" x2="857.5" y2="410.50"/>
<line x1="50.5" y1="391.50" x2="857.5" y2="391.50"/>
<line x1="50.5" y1="373.50" x2="857.5" y2="373.50"/>
<line x1="50.5" y1="354.50" x2="857.5" y2="354.50"/>
<line x1="50.5" y1="336.50" x2="857.5" y2="336.50"/>
<line x1="50.5" y1="317.50" x2="857.5" y2="317.50"/>
<line x1="50.5" y1="298.50" x2="857.5" y2="298.50"/>
<line x1="50.5" y1="280.50" x2="857.5" y2="280.50"/>
<line x1="50.5" y1="261.50" x2="857.5" y2="261.50"/>
<line x1="50.5" y1="243.50" x2="857.5" y2="243.50"/>
<line x1="50.5" y1="224.50" x2="857.5" y2="224.50"/>
<line x1="50.5" y1="205.50" x2="857.5" y2="205.50"/>
<line x1="50.5" y1="187.50" x2="857.5" y2="187.50"/>
<line x1="50.5" y1="168.50" x2="857.5" y2="168.50"/>
<line x1="50.5" y1="150.50" x2="857.5" y2="150.50"/>
<line x1="50.5" y1="131.50" x2="857.5" y2="131.50"/>
<line x1="50.5" y1="112.50" x2="857.5" y2="112.50"/>
<line x1="50.5" y1="94.50" x2="857.5" y2="94.50"/>
<line x1="50.5" y1="75.50" x2="857.5" y2="75.50"/>
<line x1="50.5" y1="57.50" x2="857.5" y2="57.50"/>
<line x1="50.5" y1="38.50" x2="857.5" y2="38.50"/>
</g>
<g id="borders" stroke="#000" stroke-width="0.8" stroke-dasharray="2.6 1.4" fill="none" stroke-linejoin="round">
<path d="M260.4,33.0 L262.9,36.0 L260.6,38.5 L258.9,41.9 L259.7,45.2 L259.2,46.4"/>
<path d="M309.7,66.0 L311.4,69.5 L312.7,76.2 L313.1,82.8 L316.4,87.9 L318.3,89.5 L316.1,93.7 L303.0,93.2 L296.3,96.2 L292.3,97.9 L293.0,101.2 L294.0,103.2 L291.3,104.8 L284.6,107.9 L277.9,112.9 L269.6,114.6 L261.2,116.6 L254.5,120.5 L247.5,124.7"/>
<path d="M407.2,48.2 L404.7,51.9 L405.6,57.8 L405.9,64.4 L403.0,70.3 L399.7,72.8 L397.2,76.2 L399.7,80.3 L403.0,84.5 L407.2,88.7 L412.2,93.7 L413.9,101.2 L416.4,109.6 L415.6,111.3 L418.1,116.3 L419.9,125.3"/>
<path d="M415.6,111.3 L420.6,107.9 L423.1,104.6 L422.3,98.7 L427.3,94.6 L433.1,91.2 L435.7,88.7 L434.5,84.2 L433.3,82.5"/>
<path d="M561.9,97.9 L559.1,101.2 L559.9,106.3 L558.2,111.3 L559.1,118.0 L560.2,125.3"/>
<path d="M664.6,50.7 L665.1,54.4 L667.4,53.6 L668.3,50.2 L674.1,49.7 L682.5,48.2 L689.2,50.2 L697.6,49.7 L705.9,46.9 L714.3,46.4 L721.0,45.2 L725.1,44.0"/>
<path d="M725.1,44.0 L731.0,44.7 L737.7,45.2 L741.0,46.6 L743.7,45.7"/>
<path d="M743.7,45.7 L741.0,41.0 L738.7,37.7 L739.7,32.3"/>
<path d="M743.7,45.7 L745.2,51.1 L749.4,56.1 L755.4,57.8 L757.1,60.3 L754.4,64.4 L751.1,68.6 L749.4,72.8 L751.1,77.8 L755.4,81.2 L756.1,84.5 L762.8,87.0 L767.8,90.4 L771.1,94.6 L772.1,99.6 L771.1,104.6 L774.5,107.9 L776.2,112.1"/>
<path d="M725.1,44.0 L719.3,47.7 L712.6,51.9 L711.3,57.8 L711.8,64.4 L709.3,70.3 L702.6,73.6 L695.9,77.0 L688.4,82.8"/>
<path d="M688.4,82.8 L690.0,89.5 L692.2,93.2"/>
<path d="M688.4,82.8 L680.8,86.2 L674.1,89.5 L668.3,90.9 L663.3,88.7 L659.9,87.9"/>
<path d="M692.2,93.2 L682.5,95.4 L671.6,98.7 L675.0,102.9 L680.2,107.9 L674.1,112.9 L667.4,116.3 L662.4,119.6 L657.4,119.6 L652.4,118.0"/>
<path d="M692.2,93.2 L700.9,94.2 L709.3,97.9 L717.6,102.9 L727.7,109.6 L737.7,116.3 L744.4,119.6 L751.1,120.6 L759.4,121.5"/>
<path d="M759.4,121.5 L762.8,118.0 L766.1,112.9 L770.3,111.3 L776.2,112.1"/>
<path d="M759.4,121.5 L767.8,122.3 L772.5,125.3"/>
<path d="M660.8,71.1 L664.9,68.6 L667.4,71.1 L665.1,75.3 L662.4,80.3 L659.1,82.0"/>
<path d="M659.9,87.9 L657.4,94.6 L656.6,101.2 L654.9,109.6 L652.4,118.0"/>
<path d="M654.1,88.7 L657.4,88.9 L656.6,97.1 L653.2,97.9 L654.1,88.7"/>
<path d="M645.7,100.4 L648.2,107.9 L651.6,117.1"/>
<path d="M829.4,44.7 L835.7,42.7 L840.7,38.5 L847.4,37.4 L854.1,36.4 L857.8,36.9"/>
<path d="M170.7,192.2 L190.5,192.2 L193.0,188.6 L196.5,184.9"/>
<path d="M170.7,193.2 L190.5,193.2"/>
<path d="M247.5,124.3 L247.5,137.5 L247.5,150.1 L216.9,150.1"/>
<path d="M247.5,139.2 L241.2,140.4 L236.1,141.7 L229.4,140.9 L223.6,141.2 L221.1,145.1 L216.9,150.1"/>
<path d="M247.5,138.0 L342.3,199.6"/>
<path d="M283.0,159.3 L267.1,159.3 L269.6,180.2 L272.1,200.3 L273.9,219.3"/>
<path d="M216.9,150.1 L216.9,173.5 L211.1,175.2 L206.4,179.4 L207.4,192.9 L195.7,193.2"/>
<path d="M216.9,150.1 L214.4,158.4 L207.7,165.1 L201.0,169.8 L196.8,175.2 L195.7,184.4"/>
<path d="M419.9,124.3 L420.3,131.7 L418.9,137.5 L420.3,141.7 L418.1,145.1 L415.6,147.6 L417.3,151.8 L420.6,155.9 L421.9,161.0 L425.6,163.5 L432.3,164.3 L436.5,167.6 L438.2,171.8 L439.8,173.2"/>
<path d="M439.8,173.2 L422.3,183.5 L408.9,191.1 L398.0,196.9 L390.5,203.6 L382.1,210.6 L373.8,212.3 L367.1,213.3"/>
<path d="M341.7,199.3 L350.4,203.6 L357.9,206.6 L357.4,212.0 L358.7,214.5 L362.9,214.5 L367.1,213.3 L367.1,219.7"/>
<path d="M439.8,173.2 L450.7,175.2 L457.4,178.5 L460.7,181.0 L467.4,177.7"/>
<path d="M467.4,177.7 L476.6,173.5 L488.5,179.5"/>
<path d="M467.4,177.7 L468.3,185.2 L469.9,191.9 L473.3,196.9 L476.6,202.8 L475.0,206.9 L474.1,213.6 L473.8,219.7"/>
<path d="M560.2,124.3 L560.2,187.2 L560.2,205.3 L550.7,206.1 L550.7,209.5 L550.7,219.7"/>
<path d="M560.2,187.2 L616.8,187.2 L619.3,186.0 L621.0,187.2 L634.5,187.2"/>
<path d="M487.7,179.2 L550.7,209.5"/>
<path d="M633.7,187.2 L670.0,186.9"/>
<path d="M810.6,168.5 L815.6,178.2 L827.3,179.4 L840.7,181.0"/>
<path d="M840.7,181.0 L844.1,168.5 L846.6,161.0 L849.9,156.8 L850.9,152.6"/>
<path d="M840.7,181.0 L844.9,187.7 L838.7,205.6 L810.6,214.5 L782.2,219.0"/>
<path d="M810.6,214.5 L814.0,219.7"/>
<path d="M175.4,239.9 L182.1,237.4 L188.8,236.1 L196.5,236.6"/>
<path d="M174.1,267.0 L182.1,265.8 L188.8,263.8 L196.5,265.2"/>
<path d="M174.1,268.5 L182.1,267.8 L188.8,266.3 L196.5,267.7"/>
<path d="M175.4,275.2 L183.8,273.4 L196.5,272.9"/>
<path d="M183.8,284.7 L188.8,282.6 L196.5,283.6"/>
<path d="M273.9,218.3 L274.9,229.0 L276.3,235.7 L278.3,239.9 L277.6,247.1 L254.5,247.4 L242.0,247.4 L241.2,245.8 L237.0,248.3 L231.1,247.8 L226.9,249.9 L221.9,246.6 L218.6,249.9 L215.7,254.5"/>
<path d="M195.7,236.7 L199.3,239.9 L203.5,241.6 L206.0,245.8 L211.1,250.8 L215.7,254.5"/>
<path d="M215.7,254.5 L216.9,259.1 L220.2,265.0 L221.9,270.0 L221.1,276.7"/>
<path d="M195.7,273.4 L202.7,272.9 L209.4,275.0 L216.9,276.2 L221.1,276.7"/>
<path d="M195.7,265.3 L199.7,266.2 L199.3,267.8 L195.7,268.5"/>
<path d="M195.7,283.6 L199.3,281.7 L201.0,276.7 L202.0,274.9"/>
<path d="M221.1,276.7 L226.1,279.2 L232.0,277.9 L237.8,278.9 L242.8,275.5 L245.3,277.5 L247.8,284.2 L250.4,290.9 L253.7,296.8"/>
<path d="M253.7,296.8 L252.9,302.6 L255.4,309.3 L256.5,313.7"/>
<path d="M253.7,296.8 L259.6,295.1 L262.9,296.8 L268.7,291.7 L271.3,295.9 L277.1,294.3"/>
<path d="M277.1,294.3 L277.9,289.2 L279.6,281.7 L286.3,276.7 L289.7,269.2 L292.2,266.7 L296.3,268.3 L302.2,260.8 L307.2,259.1 L313.1,255.0 L321.4,251.6 L329.0,252.4"/>
<path d="M329.0,252.4 L334.8,251.6 L342.5,249.1"/>
<path d="M329.0,252.4 L331.5,258.3 L336.5,264.2 L339.0,269.2 L342.5,272.7"/>
<path d="M277.1,294.3 L280.5,297.3 L285.5,300.9 L290.5,299.9 L297.2,298.9 L301.4,300.3"/>
<path d="M301.4,289.2 L300.7,295.1 L301.7,300.9 L303.4,306.8 L304.7,313.7"/>
<path d="M301.4,289.2 L313.1,289.2 L323.1,288.9 L325.6,287.6"/>
<path d="M325.6,287.6 L329.5,292.3 L330.6,302.6 L332.5,313.7"/>
<path d="M325.6,287.6 L335.6,289.2 L339.0,285.9 L342.5,284.2"/>
<path d="M335.6,289.2 L337.3,295.9 L342.5,301.3"/>
<path d="M206.4,310.1 L211.1,301.8 L216.1,298.9 L223.6,298.9 L227.8,303.5 L230.3,310.1 L232.1,312.3 L239.8,312.7"/>
<path d="M367.1,218.3 L367.4,229.0 L367.1,237.4 L364.6,244.1 L360.4,247.4 L352.0,248.8 L341.7,249.4"/>
<path d="M361.2,277.5 L362.9,272.5 L366.2,268.3 L369.6,264.2 L375.4,262.8 L383.0,263.8 L389.7,266.7 L393.0,270.0 L399.7,267.5 L404.7,268.3 L410.6,271.7 L416.4,272.5 L421.4,268.8 L429.0,267.5 L435.7,267.5 L442.3,269.5 L449.0,266.7 L453.7,263.3"/>
<path d="M473.8,218.3 L472.4,230.7 L465.8,239.1 L459.1,247.4 L454.9,255.0 L452.7,259.1 L453.7,263.3"/>
<path d="M453.7,263.3 L457.4,268.3 L459.1,270.8 L459.9,275.0 L463.2,279.2 L463.2,284.2 L459.1,286.7 L455.7,290.1 L452.4,295.9 L449.0,302.6 L446.5,309.3 L442.0,313.7"/>
<path d="M459.1,269.5 L464.9,272.5 L467.4,277.5 L468.3,284.2 L466.6,290.9 L470.8,295.9 L473.8,298.4 L462.4,298.9 L458.2,300.1 L459.1,303.5 L465.8,308.5 L470.8,313.7"/>
<path d="M341.7,273.4 L347.0,272.9 L349.0,277.2 L348.0,280.2 L350.0,279.5 L354.5,276.7 L358.7,278.4 L361.2,277.5"/>
<path d="M341.7,284.6 L347.9,283.4 L350.0,279.5"/>
<path d="M361.2,277.5 L361.7,283.4 L363.4,289.2 L362.9,295.1 L359.6,300.1 L356.2,305.1 L353.7,308.5 L353.4,313.7"/>
<path d="M550.7,218.3 L550.7,244.9 L542.4,245.4 L540.7,249.9 L536.5,255.8 L535.7,260.8 L533.2,264.2 L534.0,268.3 L530.6,271.7 L532.3,273.4 L535.7,273.9 L536.8,279.2 L538.2,283.4 L540.7,285.9 L540.2,289.2"/>
<path d="M540.2,289.2 L534.8,289.2 L529.8,293.4 L524.0,300.1 L518.1,305.1 L511.4,306.8 L504.7,307.6 L503.4,310.1 L504.7,313.7"/>
<path d="M540.2,289.2 L544.0,293.4 L546.9,298.4 L547.4,306.0 L546.5,310.1 L550.7,311.0 L556.6,307.6 L558.2,300.9 L559.9,296.8 L564.9,295.1 L568.3,296.3 L569.9,299.3 L576.6,301.8 L582.5,302.3 L587.5,300.9 L588.3,303.5 L595.0,304.3 L601.7,299.3 L606.7,295.6 L611.8,299.3 L615.9,300.9 L620.1,298.4 L624.3,292.6 L628.5,287.6 L628.5,282.6 L626.5,279.5 L630.2,279.5 L634.5,277.5"/>
<path d="M725.6,238.2 L730.2,229.4 L734.3,229.9 L742.7,229.4 L751.1,230.4 L759.4,231.5 L765.3,233.7 L769.5,230.7 L773.6,224.0 L780.5,220.0"/>
<path d="M687.5,225.7 L682.5,227.4 L675.8,230.7 L671.6,233.2 L670.0,239.1 L669.1,244.1 L666.6,250.8 L667.1,258.3"/>
<path d="M667.1,258.3 L665.8,266.7 L661.6,272.5 L657.4,276.7 L654.1,283.4 L650.7,290.9 L648.2,290.9 L645.7,297.3 L644.0,300.9"/>
<path d="M667.1,258.3 L671.6,258.3 L675.8,256.6 L680.0,253.3 L683.3,255.8 L690.9,255.0 L698.4,255.8 L704.2,259.1 L709.3,263.3 L714.3,268.3 L719.3,272.5 L722.6,275.9"/>
<path d="M722.6,275.9 L720.1,277.5 L718.5,280.9 L715.9,283.4 L716.3,287.6 L719.3,289.2 L723.5,288.4 L725.6,285.2"/>
<path d="M722.6,275.9 L726.8,275.0 L729.7,277.2"/>
<path d="M725.1,288.4 L726.0,294.3 L728.5,299.3 L732.7,304.3 L737.7,307.6 L744.4,310.6 L751.4,313.0"/>
<path d="M633.7,277.2 L636.0,277.5 L635.3,282.6 L636.0,289.2 L639.0,292.6 L642.4,296.8 L644.0,300.9 L643.7,306.0 L642.4,310.1 L637.0,312.7"/>
<path d="M813.0,218.3 L820.7,235.7"/>
<path d="M782.2,286.7 L782.2,303.5 L779.7,307.6 L775.2,313.0"/>
<path d="M222.8,326.4 L226.9,321.4 L230.3,316.3 L232.1,312.3"/>
<path d="M239.8,312.3 L242.0,319.7 L244.5,323.9 L248.7,320.5 L251.2,321.4 L250.4,326.4 L249.5,330.6 L253.7,332.2 L258.7,336.4 L259.6,340.6 L257.9,346.4 L257.2,350.1"/>
<path d="M252.9,312.3 L253.7,315.5 L250.5,320.5"/>
<path d="M304.7,312.3 L300.5,321.4 L298.9,329.7 L300.5,338.1 L303.0,342.3 L299.0,343.3"/>
<path d="M334.8,312.3 L333.1,319.7 L334.0,328.1 L338.2,333.9 L340.2,334.7"/>
<path d="M343.0,312.2 L343.5,328.2 L341.6,329.2"/>
<path d="M353.4,312.2 L353.4,331.6"/>
<path d="M442.0,312.2 L439.9,320.6 L435.2,331.1 L430.4,327.3 L425.6,326.3 L419.9,328.2 L413.3,333.9 L409.5,341.5 L407.6,347.2"/>
<path d="M419.6,370.0 L434.2,370.0 L433.8,381.4 L417.1,381.8"/>
<path d="M434.2,369.7 L442.8,369.1 L451.3,370.0 L463.7,371.0 L473.2,373.5 L477.9,374.2"/>
<path d="M451.3,370.0 L450.4,378.6 L456.1,377.6 L460.8,379.5 L462.7,384.3 L458.0,389.0 L457.0,392.8 L461.8,395.7 L462.7,402.3 L460.8,408.1 L457.0,411.9 L452.3,410.9 L447.5,408.1 L443.7,411.9 L439.0,411.9 L436.1,414.7 L436.1,419.5"/>
<path d="M469.4,312.2 L472.8,320.6 L477.9,320.6 L483.6,317.8 L488.4,319.8"/>
<path d="M472.8,320.6 L465.6,330.1 L462.7,335.8 L464.6,347.2 L469.4,355.8 L475.1,363.4 L477.9,370.0 L477.9,374.2"/>
<path d="M477.9,374.2 L479.8,364.3 L482.7,358.6 L488.4,357.7"/>
<path d="M487.6,317.8 L497.5,315.9 L503.6,312.2"/>
<path d="M487.6,357.1 L495.6,357.7 L500.4,358.2 L501.3,351.0 L507.0,343.4 L511.8,343.4 L517.5,347.2 L523.2,351.0 L531.7,351.0 L537.4,348.2 L545.0,347.2 L554.5,346.3 L561.2,344.4 L565.9,341.5 L571.6,342.5 L577.3,343.4 L581.2,342.5"/>
<path d="M581.2,342.5 L578.3,335.8 L575.4,333.0 L569.7,327.3 L564.0,322.5 L560.2,316.8 L554.5,312.2"/>
<path d="M581.2,342.5 L585.0,346.3 L590.7,350.6 L597.3,349.1 L602.1,348.2 L606.8,352.9 L613.5,357.7"/>
<path d="M613.5,357.7 L621.1,356.3 L628.7,355.8 L634.4,353.9"/>
<path d="M613.5,357.7 L614.4,363.4 L613.5,368.1 L618.8,371.0 L617.3,374.8 L611.6,379.5 L606.8,385.2 L604.0,392.8 L603.0,402.3 L602.1,404.2 L598.3,408.1 L597.3,414.7 L600.2,417.6 L605.9,416.6 L611.6,417.2 L614.4,411.9 L613.5,405.2 L609.7,400.8 L621.1,400.1 L634.4,400.1"/>
<path d="M500.4,358.2 L498.5,364.3 L496.6,371.9 L495.6,381.4 L493.7,390.9 L491.8,396.6 L487.6,402.7"/>
<path d="M751.3,312.2 L757.6,315.3 L765.2,317.2 L772.8,316.8 L775.6,314.0 L767.1,322.5 L757.6,332.0 L745.2,345.3 L732.9,345.7 L726.2,349.1 L717.6,352.9"/>
<path d="M717.6,352.9 L711.0,353.9 L706.2,351.0 L699.6,353.9 L693.9,359.0 L681.5,357.7 L672.0,350.6 L662.5,349.1 L659.7,341.5 L654.9,337.7 L651.1,330.1 L645.4,323.5 L640.7,318.7 L637.0,312.6"/>
<path d="M717.6,352.9 L708.1,364.3 L708.1,379.5 L708.5,400.4 L713.8,406.2"/>
<path d="M633.6,353.9 L637.8,355.8 L642.6,352.0 L647.3,348.2"/>
<path d="M642.6,352.0 L647.3,358.6 L652.1,368.1 L652.1,375.7 L646.4,383.3 L642.6,390.9 L642.6,400.4"/>
<path d="M633.6,400.1 L642.6,400.4 L656.8,408.1 L677.0,419.5"/>
<path d="M487.6,402.7 L485.8,401.1 L481.3,406.9 L478.8,411.3 L478.4,420.0"/>
<path d="M342.5,301.3 L343.3,306.0 L343.0,313.0"/>
</g>
<g id="coast" stroke="#000" stroke-width="0.85" fill="none" stroke-linejoin="round" stroke-linecap="round">
<path d="M60.9,32.7 L64.2,32.3 L68.4,33.0 L70.1,34.0 L66.7,34.7 L63.4,34.0 L60.9,32.7"/>
<path d="M74.2,32.0 L77.6,32.0"/>
<path d="M88.1,39.0 L91.0,38.4 L94.3,39.4 L93.8,41.0 L90.5,40.7 L88.1,39.0"/>
<path d="M94.3,47.4 L95.5,47.4 L95.5,48.4 L94.3,48.4 L94.3,47.4"/>
<path d="M168.1,86.7 L170.4,86.0 L173.3,86.9 L172.4,88.4 L169.6,88.0 L168.1,86.7"/>
<path d="M161.2,125.0 L161.7,123.3 L163.4,123.3 L163.9,125.0"/>
<path d="M242.5,32.0 L246.2,33.3 L247.2,34.7 L246.5,41.0 L244.8,47.1 L251.2,47.1 L258.7,46.2 L263.7,45.2 L267.1,47.1 L269.6,49.1 L272.1,53.6 L274.6,56.1 L277.1,57.1"/>
<path d="M277.1,57.1 L279.6,54.4 L283.0,52.4 L289.7,50.9 L296.3,49.9 L303.0,49.7 L309.7,48.4 L311.4,46.4 L313.9,44.0 L318.9,42.7 L321.4,40.2 L323.1,36.0 L326.4,33.5 L329.8,32.0"/>
<path d="M277.1,57.1 L273.9,59.4 L271.3,66.1 L267.9,72.0 L264.6,75.8 L259.6,77.8 L252.9,80.3 L247.8,83.7 L242.8,88.7 L240.3,93.7 L237.8,97.9 L236.6,102.9 L237.3,107.1 L238.6,109.6 L237.0,113.8 L233.6,118.8 L228.6,123.0 L224.8,125.5"/>
<path d="M277.1,57.1 L278.3,59.1 L280.1,61.4 L283.3,63.4 L288.0,64.4 L293.0,64.1 L298.0,63.8 L300.5,62.4 L301.4,64.4 L304.7,65.6 L309.7,66.0 L313.1,64.6 L316.4,62.8 L320.6,60.4 L324.8,58.1 L329.8,55.8 L334.8,53.7 L339.8,52.4 L342.3,51.9"/>
<path d="M199.0,122.6 L200.7,121.0 L203.4,119.8 L203.7,120.8 L201.7,122.3 L199.7,123.3 L199.0,122.6"/>
<path d="M341.7,52.1 L348.7,50.7 L355.4,49.1 L363.7,48.2 L372.1,48.6 L377.1,50.7 L382.1,49.1 L388.0,47.2 L392.2,48.2 L395.5,46.9 L400.5,48.6 L407.2,48.2 L412.2,46.1 L418.9,44.0 L422.3,45.7 L423.9,49.4 L429.0,47.4 L431.5,47.4 L430.6,50.2 L427.3,52.7 L425.6,56.1 L427.3,58.6 L429.8,60.3 L431.5,63.6 L430.6,67.0 L427.3,70.3 L423.9,72.0 L421.4,74.5 L422.3,77.0 L426.5,78.2 L430.6,80.3 L434.0,82.8 L440.7,84.9 L449.0,85.9 L455.7,86.2 L462.4,87.9 L469.1,90.4 L471.6,94.6 L474.1,97.9 L479.1,100.4 L485.8,102.1 L488.5,102.7"/>
<path d="M444.0,38.5 L449.0,36.9 L452.4,37.7 L459.1,38.0 L465.8,37.4 L471.6,36.0 L472.8,38.5 L471.6,41.0 L469.9,44.4 L470.8,47.7 L469.1,50.7 L464.1,49.4 L457.4,46.9 L450.7,43.5 L444.9,41.0 L444.0,38.5"/>
<path d="M473.5,36.0 L475.8,34.0 L476.8,31.7"/>
<path d="M473.5,36.0 L475.0,38.0 L477.8,37.7 L480.8,35.3 L482.5,32.0"/>
<path d="M427.3,77.8 L429.0,76.5 L430.6,77.8 L430.3,79.8 L428.3,80.2 L427.3,77.8"/>
<path d="M439.0,49.2 L440.2,49.2 L440.2,50.2 L439.0,50.2 L439.0,49.2"/>
<path d="M431.5,68.3 L432.6,68.3 L432.6,69.5 L431.5,69.5 L431.5,68.3"/>
<path d="M459.9,56.4 L461.7,56.8 L463.6,58.1 L462.7,58.8 L460.7,57.8 L459.9,56.4"/>
<path d="M487.7,102.6 L493.0,103.7 L498.0,106.3 L502.2,109.3 L505.6,110.4 L509.7,109.3 L513.9,105.4 L515.3,102.1 L513.4,97.1 L513.9,93.7 L517.3,89.5 L523.1,86.5 L529.8,85.0 L536.5,85.9 L541.5,87.9 L543.2,90.9 L548.2,92.9 L554.9,94.2 L559.9,94.9 L561.9,97.9 L568.3,97.6 L575.0,98.7 L581.7,100.4 L588.3,102.6 L595.0,104.3 L598.4,104.9 L603.4,102.6 L608.4,100.4 L613.4,98.7 L617.6,97.9 L621.8,98.4 L625.1,100.4 L628.5,102.1 L634.5,102.6"/>
<path d="M588.0,49.7 L593.4,50.2 L598.4,51.4 L603.4,55.4 L608.4,54.4 L611.8,49.7 L615.1,48.6 L621.8,50.2 L626.8,53.6 L631.8,56.1 L634.5,56.8"/>
<path d="M585.5,56.1 L588.3,53.2 L590.0,54.4 L587.7,57.4 L585.5,56.1"/>
<path d="M579.5,58.6 L580.5,58.6 L580.5,62.8 L579.5,62.8 L579.5,58.6"/>
<path d="M546.5,61.1 L550.7,60.3 L552.6,62.1 L558.2,62.4 L564.9,63.1 L572.6,63.6 L571.6,66.1 L566.6,66.1 L559.9,67.1 L554.9,65.5 L549.9,64.4 L546.5,62.8 L546.5,61.1"/>
<path d="M634.5,63.4 L631.8,64.4 L628.5,66.1 L630.2,68.8 L634.5,70.0"/>
<path d="M622.8,98.9 L625.5,99.2 L627.8,101.9 L625.5,102.2 L622.8,98.9"/>
<path d="M612.6,98.9 L616.8,97.9"/>
<path d="M633.7,56.8 L639.0,55.2 L644.0,52.7 L649.1,49.7 L652.4,49.1 L656.6,51.1 L660.8,49.4 L663.3,48.6 L664.6,50.7 L662.4,53.6 L660.8,56.9 L660.4,61.9 L661.6,67.0 L660.8,71.1 L658.2,77.0 L655.7,82.0 L653.2,87.9 L651.6,93.7 L649.1,97.9 L645.7,100.4 L640.7,102.1 L633.7,102.6"/>
<path d="M633.7,63.4 L639.0,62.4 L644.0,61.1 L648.7,60.3 L644.4,63.4 L642.4,64.4 L644.0,66.5 L639.0,68.1 L633.7,70.0"/>
<path d="M651.4,116.3 L650.4,121.3 L649.7,125.3"/>
<path d="M652.4,117.0 L651.4,125.3"/>
<path d="M633.7,119.6 L636.0,125.3"/>
<path d="M776.2,112.1 L774.1,113.3 L775.5,115.0 L773.1,116.0 L772.1,118.0 L774.5,118.6 L776.2,121.3 L778.2,125.3"/>
<path d="M776.5,31.7 L778.2,33.3 L780.5,34.3"/>
<path d="M780.5,33.7 L782.2,39.4 L784.7,41.9 L793.1,43.5 L797.2,46.9 L803.9,50.2 L810.6,51.4 L819.0,49.7 L827.3,48.6 L829.4,47.7 L828.2,41.0 L828.0,31.7"/>
<path d="M776.3,112.9 L779.7,112.3 L783.0,108.9 L784.7,109.6 L787.2,111.3 L792.2,110.4 L795.6,114.6 L798.9,119.6 L802.6,125.3"/>
<path d="M161.7,124.3 L162.4,126.0 L163.7,126.0 L164.1,124.3"/>
<path d="M159.5,133.0 L161.0,132.7 L161.4,134.0 L159.9,134.4 L159.5,133.0"/>
<path d="M167.4,129.7 L168.7,129.3 L169.4,130.5 L168.1,131.2 L167.4,129.7"/>
<path d="M170.7,128.7 L177.4,125.8 L178.8,127.0 L174.6,131.4 L170.7,128.7"/>
<path d="M181.3,131.4 L182.1,129.7 L184.1,129.2 L185.8,130.7 L185.5,132.7 L183.5,133.5 L181.8,132.9 L181.3,131.4"/>
<path d="M193.0,131.0 L196.5,129.7"/>
<path d="M196.5,145.6 L193.8,149.2 L192.2,155.1 L190.5,161.0 L185.5,166.0 L181.3,169.8 L178.8,175.2 L176.3,180.2 L172.1,185.2 L170.4,190.2 L169.4,197.2 L170.7,195.2 L172.9,198.6 L176.3,201.9 L177.1,206.9 L175.8,210.3 L177.1,213.6 L179.1,219.7"/>
<path d="M225.1,124.3 L221.1,128.0 L214.4,130.9 L208.5,131.7 L205.2,135.0 L203.5,140.1 L201.0,144.2 L195.7,146.6"/>
<path d="M632.2,124.3 L634.5,127.0"/>
<path d="M633.7,126.7 L639.0,131.7 L642.4,138.4 L646.5,146.7 L650.7,154.3 L654.9,161.8 L659.1,168.1 L657.4,171.0 L658.2,175.2 L661.6,179.4 L665.8,182.7 L670.0,186.0 L671.1,191.1 L673.8,195.2 L673.3,201.9 L674.1,210.3 L675.8,215.3 L680.2,218.7"/>
<path d="M635.3,124.3 L641.5,130.0 L645.4,133.0 L647.7,129.0 L650.1,124.3"/>
<path d="M651.4,124.3 L649.4,130.4 L654.1,130.9 L660.8,140.9 L667.4,150.1 L672.1,155.9 L674.1,159.3 L673.3,162.6 L676.6,165.5 L682.5,168.5 L686.7,175.2 L690.0,181.0 L690.9,185.2 L690.5,191.1 L692.5,196.1 L696.7,201.1 L702.6,204.4 L706.7,208.6 L710.1,214.5 L711.9,219.7"/>
<path d="M667.1,151.4 L669.5,152.8 L671.8,155.8 L669.1,154.8 L667.1,151.4"/>
<path d="M770.3,124.7 L776.2,126.7 L780.5,131.0"/>
<path d="M780.0,130.9 L783.9,135.0 L789.7,140.1 L793.9,143.4 L793.1,147.6 L795.6,152.6 L798.9,158.4 L801.9,162.5 L800.6,160.1 L799.7,155.1 L801.4,150.1 L803.9,148.4 L806.4,150.9 L807.6,155.9 L806.9,161.0 L804.8,163.1 L808.1,166.0 L810.6,168.5 L817.3,166.8 L824.0,166.5 L830.7,166.8 L834.0,164.3 L838.2,159.3 L844.1,153.4 L849.1,148.4 L851.8,146.7 L852.1,151.8 L851.1,156.8 L853.3,161.8 L856.6,166.8 L858.1,168.5"/>
<path d="M796.2,147.7 L797.6,147.4 L798.2,150.4 L796.9,151.1 L796.2,147.7"/>
<path d="M802.6,124.3 L804.8,129.2 L809.8,132.5 L815.6,135.9 L822.3,139.2 L829.0,142.6 L835.7,144.7 L840.7,142.6 L847.4,140.1 L851.6,138.4 L858.1,140.6"/>
<path d="M841.6,143.4 L844.1,141.7 L849.9,139.7 L850.4,141.1 L845.7,143.1 L842.4,144.4 L841.6,143.4"/>
<path d="M854.1,219.7 L858.1,216.1"/>
<path d="M92.6,232.4 L94.8,231.4 L97.5,232.7 L96.8,234.7 L94.2,234.4 L92.6,232.4"/>
<path d="M101.0,236.4 L105.2,236.7 L104.9,237.7 L101.2,237.4 L101.0,236.4"/>
<path d="M114.6,234.4 L115.6,234.4 L115.6,236.4 L114.6,236.4 L114.6,234.4"/>
<path d="M115.2,240.7 L116.6,239.7 L117.9,241.1 L116.9,242.6 L115.6,242.1 L115.2,240.7"/>
<path d="M100.5,252.1 L101.5,251.3 L102.7,252.3 L101.8,253.5 L100.7,253.1 L100.5,252.1"/>
<path d="M106.9,249.8 L108.9,249.1 L110.5,251.1 L109.2,252.6 L107.5,251.9 L106.9,249.8"/>
<path d="M112.4,249.3 L113.4,249.3 L113.4,250.3 L112.4,250.3 L112.4,249.3"/>
<path d="M179.1,218.3 L179.6,224.0 L178.4,230.7 L176.3,237.4 L174.6,244.1 L170.4,250.8 L165.9,254.1 L169.6,256.6 L172.9,260.8 L174.1,264.2 L172.9,267.5 L174.1,270.8 L172.9,274.2 L175.4,276.7 L177.9,280.0 L179.6,282.6 L182.1,285.1 L183.8,282.6 L185.8,285.9 L188.8,289.2 L192.2,293.4 L196.5,297.3"/>
<path d="M177.8,286.6 L180.1,285.9 L182.1,287.2 L179.8,287.9 L177.8,286.6"/>
<path d="M174.1,267.8 L178.8,267.5 L183.8,266.5"/>
<path d="M195.7,296.9 L200.2,300.9 L204.4,306.0 L207.0,312.0 L207.7,313.7"/>
<path d="M680.0,218.3 L684.2,222.3 L687.5,225.7 L690.0,232.4 L692.5,239.1 L695.0,245.8 L697.6,249.9 L700.9,250.8 L705.9,253.3 L710.9,257.5 L715.9,263.3 L721.0,269.2 L725.1,273.4 L728.5,275.9 L730.7,278.4 L729.3,281.7 L725.1,283.4 L723.5,284.2 L727.7,282.9 L731.0,284.6 L734.3,289.2 L739.4,293.4 L746.1,293.4 L752.7,290.9 L759.4,289.2 L767.8,287.6 L776.2,286.2 L780.5,285.6"/>
<path d="M711.8,218.3 L715.9,224.9 L721.0,230.7 L725.1,236.6 L726.0,240.7 L724.3,246.6 L726.0,252.4 L727.7,259.1 L729.3,265.8 L730.2,270.0 L731.8,273.4 L737.7,273.4 L744.4,271.7 L751.1,269.2 L759.4,265.8 L767.8,262.8 L774.5,260.8 L780.5,260.0"/>
<path d="M723.8,248.3 L725.0,248.3 L725.0,249.4 L723.8,249.4 L723.8,248.3"/>
<path d="M724.3,262.8 L725.5,262.8 L725.5,264.2 L724.3,264.2 L724.3,262.8"/>
<path d="M780.0,260.0 L785.5,255.5 L793.9,253.3 L802.3,250.8 L810.6,247.4 L813.1,244.1 L814.0,239.9 L820.7,235.7 L829.0,234.1 L837.4,233.2 L841.6,229.9 L844.1,225.7 L851.6,224.0 L854.4,218.3"/>
<path d="M780.0,285.6 L787.2,284.2 L793.9,282.6 L798.9,280.0 L803.1,280.9 L803.9,283.4 L803.1,289.2 L800.6,295.9 L799.7,302.6 L797.2,308.5 L794.6,313.7"/>
<path d="M801.9,292.6 L804.3,294.6 L801.6,294.6 L801.9,292.6"/>
<path d="M823.2,274.2 L827.3,272.9 L834.0,274.2 L831.5,276.4 L826.5,276.9 L823.2,274.2"/>
<path d="M205.2,312.3 L208.5,318.0 L211.1,321.4 L216.1,324.7 L222.8,328.9 L229.4,333.9 L236.1,338.9 L244.5,344.8 L251.2,348.5 L257.0,350.6 L262.9,348.5 L271.3,345.1 L279.6,343.1 L288.0,342.3 L296.3,343.1 L303.0,344.4 L309.7,346.6 L316.4,343.9 L323.1,341.4 L329.8,338.4 L336.5,336.4 L342.5,333.7"/>
<path d="M341.6,333.0 L349.6,331.6 L359.1,330.7 L365.8,331.1 L370.5,333.0 L375.3,337.7 L378.1,341.5 L380.0,346.3 L384.8,350.6 L391.4,349.1 L399.0,348.7 L405.7,347.2 L408.5,348.2 L411.4,352.0 L417.1,353.9 L419.0,357.7 L419.9,364.3 L419.0,371.0 L417.1,377.6 L415.2,381.4 L417.1,386.2 L415.2,389.0 L413.3,393.8 L409.5,396.6 L411.4,401.4 L415.2,406.2 L417.1,411.9 L421.8,416.6 L424.5,419.5"/>
<path d="M406.6,359.6 L408.5,356.7 L411.4,357.1 L409.5,360.5 L407.6,361.5 L406.6,359.6"/>
<path d="M388.6,388.1 L390.5,387.1 L391.0,389.0 L389.1,390.6 L388.6,388.1"/>
<path d="M396.2,375.2 L397.3,375.2 L397.3,376.3 L396.2,376.3 L396.2,375.2"/>
<path d="M780.4,339.2 L774.7,348.2 L767.1,357.7 L759.5,365.3 L753.8,369.1 L746.2,372.9 L738.6,379.5 L731.0,387.1 L723.3,394.7 L717.6,401.4 L713.8,406.2 L709.1,410.0 L705.3,413.8 L701.5,416.6 L700.5,419.5"/>
<path d="M794.9,312.2 L790.7,317.8 L786.9,325.4 L784.0,332.0 L782.1,336.8 L780.4,339.2"/>
<path d="M633.7,126.7 L632.8,124.7 L630.5,121.0 L628.5,115.9 L630.0,112.6 L630.6,112.6 L631.9,115.5 L633.7,120.1 L635.3,124.3"/>
<path d="M194.0,130.8 L195.5,128.0 L198.5,125.0 L200.5,122.8 L201.8,123.2 L200.5,126.0 L198.0,129.0 L195.5,131.0 L194.0,130.8"/>
<path d="M522.1,31.7 L524.0,33.7 L526.2,34.8 L528.8,34.6 L531.2,34.3 L536.1,35.3 L540.9,37.2 L544.7,39.1 L547.6,39.6 L550.5,41.5 L551.9,39.6 L552.4,37.2 L550.5,36.0 L546.6,33.8 L542.8,32.1"/>
<path d="M524.5,39.1 L527.4,37.2 L531.2,36.3 L536.1,37.2 L540.9,38.7 L543.8,40.1 L546.2,42.5 L544.7,44.0 L542.3,43.5 L540.9,42.5 L539.9,44.4 L540.9,47.3 L541.8,50.2 L542.8,52.6 L541.8,54.5 L540.4,54.1 L539.9,51.6 L538.9,49.2 L537.5,48.8 L537.5,50.7 L536.5,52.6 L535.1,50.7 L534.1,48.8 L532.7,49.2 L531.7,50.7 L530.3,48.8 L529.3,46.8 L528.4,44.4 L526.4,42.0 L524.5,39.1"/>
<path d="M546.6,32.1 L550.5,33.4 L554.3,36.3 L558.2,39.1 L562.0,42.0 L564.4,43.5 L562.0,43.0 L558.2,40.6 L554.3,38.2 L550.5,35.3 L546.6,32.1"/>
<path d="M517.3,35.8 L518.7,34.3 L520.7,34.3 L520.9,36.3 L519.7,37.5 L518.0,37.2 L517.3,35.8"/>
<path d="M518.0,35.6 L519.9,35.0 L520.1,36.5 L518.5,36.7"/>
<path d="M568.3,33.4 L569.7,32.9 L570.9,34.3 L570.2,36.3 L568.8,35.8 L568.3,33.4"/>
<path d="M571.7,33.4 L573.6,34.8 L575.5,33.8 L578.4,34.6 L579.8,34.3"/>
<path d="M578.4,34.8 L577.4,37.2 L580.8,38.7 L581.5,40.8 L583.2,44.4 L583.7,45.9 L580.8,46.8 L578.4,47.8 L578.9,49.7 L582.2,47.3 L585.1,47.9 L589.0,47.3 L591.1,48.8 L588.0,49.7"/>
<path d="M699.2,243.2 L700.6,242.1 L702.2,244.1 L703.2,246.1 L700.9,245.8 L699.6,244.4Z" fill="#000" stroke-width="0.5"/>
<path d="M715.9,234.4 L717.6,233.7 L719.3,235.4 L719.6,237.1 L717.3,236.4 L716.3,235.4Z" fill="#000" stroke-width="0.5"/>
<path d="M520.2,39.6 L522.1,39.6 L522.1,40.8 L520.2,40.8Z" fill="#000" stroke-width="0.5"/>
<path d="M553.4,41.5 L554.8,41.5 L554.8,43.0 L553.4,43.0Z" fill="#000" stroke-width="0.5"/>
<path d="M554.8,44.4 L555.8,44.4 L555.8,45.9 L554.8,45.9Z" fill="#000" stroke-width="0.5"/>
<path d="M556.7,47.3 L557.7,47.3 L557.7,48.5 L556.7,48.5Z" fill="#000" stroke-width="0.5"/>
<path d="M553.9,49.7 L556.3,49.7 L556.3,50.7 L553.9,50.7Z" fill="#000" stroke-width="0.5"/>
<path d="M559.1,42.5 L559.9,42.5 L559.9,43.5 L559.1,43.5Z" fill="#000" stroke-width="0.5"/>
<path d="M561.6,46.4 L564.9,46.4 L564.9,47.8 L561.6,47.8Z" fill="#000" stroke-width="0.5"/>
<path d="M562.5,49.7 L564.0,49.7 L564.0,50.7 L562.5,50.7Z" fill="#000" stroke-width="0.5"/>
<path d="M563.5,52.6 L564.7,52.6 L564.7,53.6 L563.5,53.6Z" fill="#000" stroke-width="0.5"/>
<path d="M567.3,48.1 L570.2,48.1 L570.2,49.1 L567.3,49.1Z" fill="#000" stroke-width="0.5"/>
<path d="M569.3,41.4 L572.6,41.4 L572.6,42.3 L569.3,42.3Z" fill="#000" stroke-width="0.5"/>
<path d="M572.1,50.7 L573.6,50.7 L573.6,51.6 L572.1,51.6Z" fill="#000" stroke-width="0.5"/>
<path d="M575.0,39.9 L578.4,39.9 L578.4,40.8 L575.0,40.8Z" fill="#000" stroke-width="0.5"/>
<path d="M578.4,39.6 L581.1,39.0 L581.5,40.2 L578.9,40.6Z" fill="#000" stroke-width="0.5"/>
</g>
</g>
<rect x="50.5" y="31.5" width="807.0" height="388.0" fill="none" stroke="#9c9c9c" stroke-width="1"/>
<g id="title" font-weight="bold" font-size="16" fill="#333333" opacity="0.999">
<text x="68.3" y="21.7" textLength="43.4" lengthAdjust="spacingAndGlyphs">Valid:</text>
<text x="117.1" y="21.7" textLength="23.9" lengthAdjust="spacingAndGlyphs">Fri,</text>
<text x="146.3" y="21.7" textLength="97.1" lengthAdjust="spacingAndGlyphs">10-oct-2025</text>
<text x="256.5" y="21.7" textLength="18.8" lengthAdjust="spacingAndGlyphs">00</text>
<text x="280.9" y="21.7" textLength="33.5" lengthAdjust="spacingAndGlyphs">UTC</text>
<text x="328.3" y="21.7" textLength="47.6" lengthAdjust="spacingAndGlyphs">pcp3h</text>
<text x="390.0" y="21.7" textLength="87.1" lengthAdjust="spacingAndGlyphs">T:+69-72hr</text>
<text x="491.0" y="21.7" textLength="119.9" lengthAdjust="spacingAndGlyphs">MOL_6KM_GFS</text>
<text x="624.0" y="21.7" textLength="30.7" lengthAdjust="spacingAndGlyphs">init:</text>
<text x="658.2" y="21.7" textLength="100.0" lengthAdjust="spacingAndGlyphs">07-Oct-2025</text>
<text x="775.9" y="21.7" textLength="19.6" lengthAdjust="spacingAndGlyphs">00</text>
<text x="800.1" y="21.7" textLength="33.7" lengthAdjust="spacingAndGlyphs">UTC</text>
</g>
<g id="ylab" font-size="14" fill="#333333" text-anchor="end" opacity="0.999">
<text x="42.0" y="415.1" textLength="22.6" lengthAdjust="spacingAndGlyphs">2°S</text>
<text x="42.0" y="396.5" textLength="13.6" lengthAdjust="spacingAndGlyphs">0°</text>
<text x="42.0" y="377.9" textLength="23.4" lengthAdjust="spacingAndGlyphs">2°N</text>
<text x="42.0" y="359.3" textLength="23.4" lengthAdjust="spacingAndGlyphs">4°N</text>
<text x="42.0" y="340.7" textLength="23.4" lengthAdjust="spacingAndGlyphs">6°N</text>
<text x="42.0" y="322.1" textLength="23.4" lengthAdjust="spacingAndGlyphs">8°N</text>
<text x="42.0" y="303.5" textLength="31.4" lengthAdjust="spacingAndGlyphs">10°N</text>
<text x="42.0" y="284.9" textLength="31.4" lengthAdjust="spacingAndGlyphs">12°N</text>
<text x="42.0" y="266.3" textLength="31.4" lengthAdjust="spacingAndGlyphs">14°N</text>
<text x="42.0" y="247.7" textLength="31.4" lengthAdjust="spacingAndGlyphs">16°N</text>
<text x="42.0" y="229.1" textLength="31.4" lengthAdjust="spacingAndGlyphs">18°N</text>
<text x="42.0" y="210.5" textLength="31.4" lengthAdjust="spacingAndGlyphs">20°N</text>
<text x="42.0" y="191.9" textLength="31.4" lengthAdjust="spacingAndGlyphs">22°N</text>
<text x="42.0" y="173.3" textLength="31.4" lengthAdjust="spacingAndGlyphs">24°N</text>
<text x="42.0" y="154.7" textLength="31.4" lengthAdjust="spacingAndGlyphs">26°N</text>
<text x="42.0" y="136.1" textLength="31.4" lengthAdjust="spacingAndGlyphs">28°N</text>
<text x="42.0" y="117.5" textLength="31.4" lengthAdjust="spacingAndGlyphs">30°N</text>
<text x="42.0" y="98.9" textLength="31.4" lengthAdjust="spacingAndGlyphs">32°N</text>
<text x="42.0" y="80.3" textLength="31.4" lengthAdjust="spacingAndGlyphs">34°N</text>
<text x="42.0" y="61.7" textLength="31.4" lengthAdjust="spacingAndGlyphs">36°N</text>
<text x="42.0" y="43.1" textLength="31.4" lengthAdjust="spacingAndGlyphs">38°N</text>
</g>
<g id="xlab" font-size="14" fill="#333333" text-anchor="middle" opacity="0.999">
<text x="68.5" y="437.2" textLength="33.8" lengthAdjust="spacingAndGlyphs">28°W</text>
<text x="105.6" y="437.2" textLength="33.8" lengthAdjust="spacingAndGlyphs">24°W</text>
<text x="142.8" y="437.2" textLength="33.8" lengthAdjust="spacingAndGlyphs">20°W</text>
<text x="179.9" y="437.2" textLength="33.8" lengthAdjust="spacingAndGlyphs">16°W</text>
<text x="217.1" y="437.2" textLength="33.8" lengthAdjust="spacingAndGlyphs">12°W</text>
<text x="254.2" y="437.2" textLength="25.8" lengthAdjust="spacingAndGlyphs">8°W</text>
<text x="291.4" y="437.2" textLength="25.8" lengthAdjust="spacingAndGlyphs">4°W</text>
<text x="328.5" y="437.2" textLength="13.6" lengthAdjust="spacingAndGlyphs">0°</text>
<text x="365.6" y="437.2" textLength="22.0" lengthAdjust="spacingAndGlyphs">4°E</text>
<text x="402.8" y="437.2" textLength="22.0" lengthAdjust="spacingAndGlyphs">8°E</text>
<text x="439.9" y="437.2" textLength="29.8" lengthAdjust="spacingAndGlyphs">12°E</text>
<text x="477.1" y="437.2" textLength="29.8" lengthAdjust="spacingAndGlyphs">16°E</text>
<text x="514.2" y="437.2" textLength="29.8" lengthAdjust="spacingAndGlyphs">20°E</text>
<text x="551.4" y="437.2" textLength="29.8" lengthAdjust="spacingAndGlyphs">24°E</text>
<text x="588.5" y="437.2" textLength="29.8" lengthAdjust="spacingAndGlyphs">28°E</text>
<text x="625.6" y="437.2" textLength="29.8" lengthAdjust="spacingAndGlyphs">32°E</text>
<text x="662.8" y="437.2" textLength="29.8" lengthAdjust="spacingAndGlyphs">36°E</text>
<text x="699.9" y="437.2" textLength="29.8" lengthAdjust="spacingAndGlyphs">40°E</text>
<text x="737.1" y="437.2" textLength="29.8" lengthAdjust="spacingAndGlyphs">44°E</text>
<text x="774.2" y="437.2" textLength="29.8" lengthAdjust="spacingAndGlyphs">48°E</text>
<text x="811.4" y="437.2" textLength="29.8" lengthAdjust="spacingAndGlyphs">52°E</text>
<text x="848.5" y="437.2" textLength="29.8" lengthAdjust="spacingAndGlyphs">56°E</text>
</g>
<g id="cbar">
<rect x="130.45" y="489.5" width="38.35" height="17.90" fill="#ffffff"/>
<rect x="168.50" y="489.5" width="38.35" height="17.90" fill="#d0efcf"/>
<rect x="206.55" y="489.5" width="38.35" height="17.90" fill="#bde5b7"/>
<rect x="244.60" y="489.5" width="38.35" height="17.90" fill="#99d594"/>
<rect x="282.65" y="489.5" width="38.35" height="17.90" fill="#6cbf73"/>
<rect x="320.70" y="489.5" width="38.35" height="17.90" fill="#3ea85b"/>
<rect x="358.75" y="489.5" width="38.35" height="17.90" fill="#a0cbe2"/>
<rect x="396.80" y="489.5" width="38.35" height="17.90" fill="#72b2d8"/>
<rect x="434.85" y="489.5" width="38.35" height="17.90" fill="#4d99ca"/>
<rect x="472.90" y="489.5" width="38.35" height="17.90" fill="#2677b8"/>
<rect x="510.95" y="489.5" width="38.35" height="17.90" fill="#fc9f81"/>
<rect x="549.00" y="489.5" width="38.35" height="17.90" fill="#fa7759"/>
<rect x="587.05" y="489.5" width="38.35" height="17.90" fill="#f14b38"/>
<rect x="625.10" y="489.5" width="38.35" height="17.90" fill="#d92823"/>
<rect x="663.15" y="489.5" width="38.35" height="17.90" fill="#c6161b"/>
<rect x="701.20" y="489.5" width="38.35" height="17.90" fill="#b497f0"/>
<rect x="739.25" y="489.5" width="38.35" height="17.90" fill="#4b0082"/>
<rect x="130.45" y="489.5" width="646.85" height="17.90" fill="none" stroke="#a6a6a6" stroke-width="1.3"/>
<g stroke="#222" stroke-width="1.1">
<line x1="130.45" y1="507.7" x2="130.45" y2="512.6"/>
<line x1="168.50" y1="507.7" x2="168.50" y2="512.6"/>
<line x1="206.55" y1="507.7" x2="206.55" y2="512.6"/>
<line x1="244.60" y1="507.7" x2="244.60" y2="512.6"/>
<line x1="282.65" y1="507.7" x2="282.65" y2="512.6"/>
<line x1="320.70" y1="507.7" x2="320.70" y2="512.6"/>
<line x1="358.75" y1="507.7" x2="358.75" y2="512.6"/>
<line x1="396.80" y1="507.7" x2="396.80" y2="512.6"/>
<line x1="434.85" y1="507.7" x2="434.85" y2="512.6"/>
<line x1="472.90" y1="507.7" x2="472.90" y2="512.6"/>
<line x1="510.95" y1="507.7" x2="510.95" y2="512.6"/>
<line x1="549.00" y1="507.7" x2="549.00" y2="512.6"/>
<line x1="587.05" y1="507.7" x2="587.05" y2="512.6"/>
<line x1="625.10" y1="507.7" x2="625.10" y2="512.6"/>
<line x1="663.15" y1="507.7" x2="663.15" y2="512.6"/>
<line x1="701.20" y1="507.7" x2="701.20" y2="512.6"/>
<line x1="739.25" y1="507.7" x2="739.25" y2="512.6"/>
<line x1="777.30" y1="507.7" x2="777.30" y2="512.6"/>
</g>
<g font-size="14" fill="#222222" text-anchor="middle" opacity="0.999">
<text x="131.15" y="528.6" textLength="7.6" lengthAdjust="spacingAndGlyphs">0</text>
<text x="169.20" y="528.6" textLength="7.6" lengthAdjust="spacingAndGlyphs">1</text>
<text x="207.25" y="528.6" textLength="7.6" lengthAdjust="spacingAndGlyphs">2</text>
<text x="245.30" y="528.6" textLength="7.6" lengthAdjust="spacingAndGlyphs">5</text>
<text x="283.35" y="528.6" textLength="15.2" lengthAdjust="spacingAndGlyphs">10</text>
<text x="321.40" y="528.6" textLength="15.2" lengthAdjust="spacingAndGlyphs">15</text>
<text x="359.45" y="528.6" textLength="15.2" lengthAdjust="spacingAndGlyphs">20</text>
<text x="397.50" y="528.6" textLength="15.2" lengthAdjust="spacingAndGlyphs">25</text>
<text x="435.55" y="528.6" textLength="15.2" lengthAdjust="spacingAndGlyphs">30</text>
<text x="473.60" y="528.6" textLength="15.2" lengthAdjust="spacingAndGlyphs">35</text>
<text x="511.65" y="528.6" textLength="15.2" lengthAdjust="spacingAndGlyphs">40</text>
<text x="549.70" y="528.6" textLength="15.2" lengthAdjust="spacingAndGlyphs">50</text>
<text x="587.75" y="528.6" textLength="15.2" lengthAdjust="spacingAndGlyphs">60</text>
<text x="625.80" y="528.6" textLength="15.2" lengthAdjust="spacingAndGlyphs">75</text>
<text x="663.85" y="528.6" textLength="22.8" lengthAdjust="spacingAndGlyphs">100</text>
<text x="701.90" y="528.6" textLength="22.8" lengthAdjust="spacingAndGlyphs">125</text>
<text x="739.95" y="528.6" textLength="22.8" lengthAdjust="spacingAndGlyphs">150</text>
<text x="778.00" y="528.6" textLength="22.8" lengthAdjust="spacingAndGlyphs">200</text>
</g>
<text x="453.6" y="548.5" font-size="14" fill="#222222" opacity="0.999" text-anchor="middle" textLength="121.3" lengthAdjust="spacingAndGlyphs">Précipitation (mm)</text>
</g>
</svg></body></html>
